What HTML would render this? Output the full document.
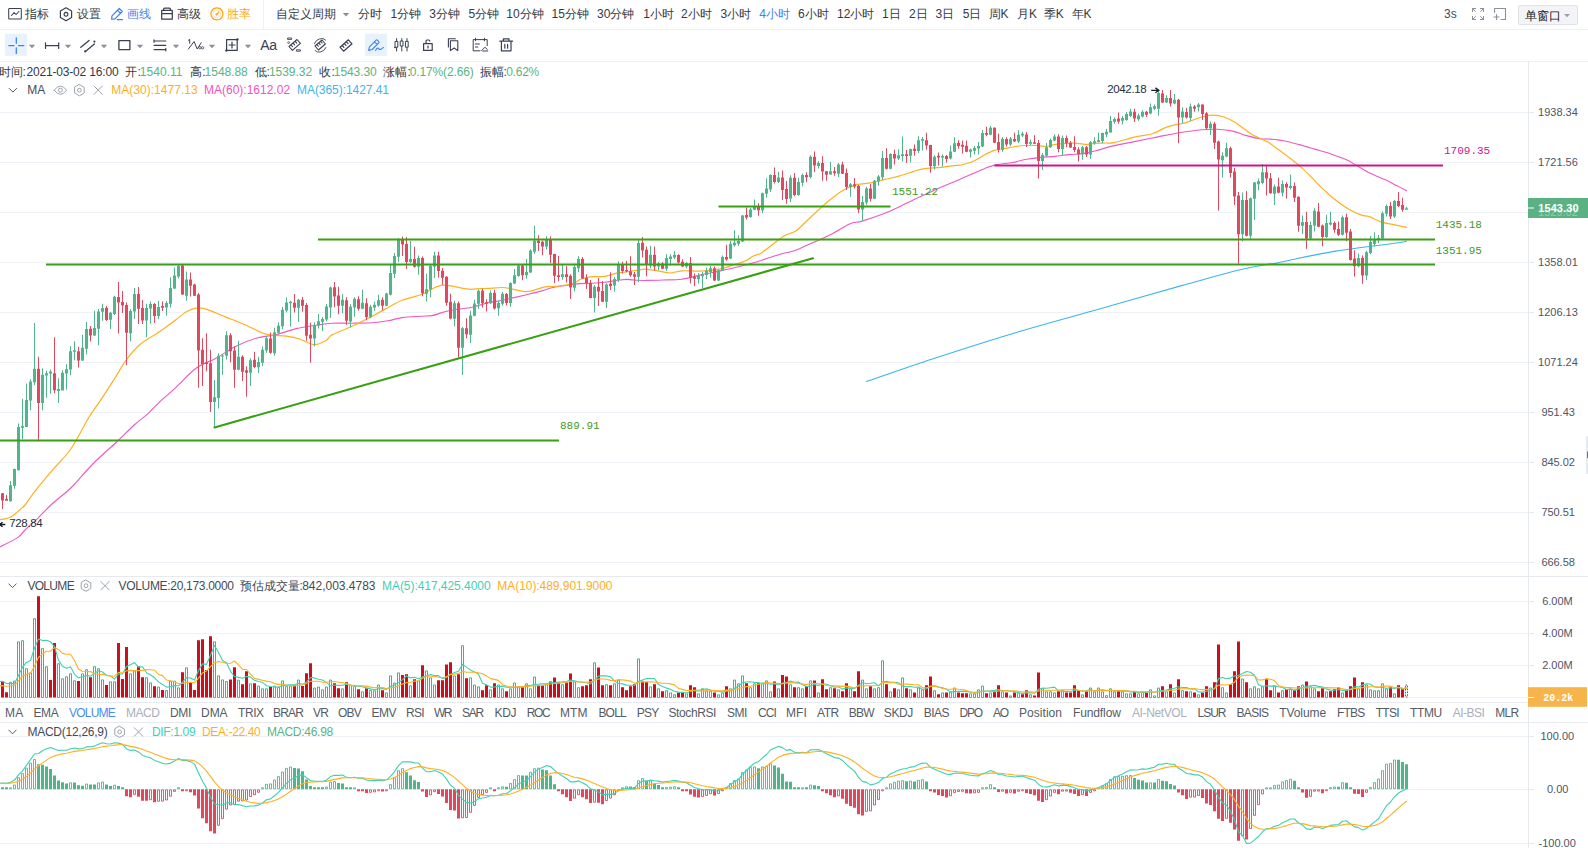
<!DOCTYPE html>
<html><head><meta charset="utf-8"><title>chart</title>
<style>
html,body{margin:0;padding:0;background:#fff;}
body{width:1588px;height:848px;position:relative;overflow:hidden;font-family:"Liberation Sans",sans-serif;}
svg.g{position:absolute;left:0;top:0;}
.t{position:absolute;white-space:nowrap;line-height:20px;height:20px;font-family:"Liberation Sans",sans-serif;}
</style></head><body>
<svg class="g" width="1588" height="848" viewBox="0 0 1588 848">
<rect x="0" y="112" width="1528" height="1" fill="#eff3f8"/>
<rect x="0" y="162" width="1528" height="1" fill="#eff3f8"/>
<rect x="0" y="212" width="1528" height="1" fill="#eff3f8"/>
<rect x="0" y="262" width="1528" height="1" fill="#eff3f8"/>
<rect x="0" y="312" width="1528" height="1" fill="#eff3f8"/>
<rect x="0" y="362" width="1528" height="1" fill="#eff3f8"/>
<rect x="0" y="412" width="1528" height="1" fill="#eff3f8"/>
<rect x="0" y="462" width="1528" height="1" fill="#eff3f8"/>
<rect x="0" y="512" width="1528" height="1" fill="#eff3f8"/>
<rect x="0" y="562" width="1528" height="1" fill="#eff3f8"/>
<rect x="0" y="601" width="1528" height="1" fill="#eff3f8"/>
<rect x="0" y="633" width="1528" height="1" fill="#eff3f8"/>
<rect x="0" y="665" width="1528" height="1" fill="#eff3f8"/>
<rect x="0" y="697" width="1528" height="1" fill="#eff3f8"/>
<rect x="0" y="736" width="1528" height="1" fill="#eff3f8"/>
<rect x="0" y="789" width="1528" height="1" fill="#eff3f8"/>
<rect x="0" y="843" width="1528" height="1" fill="#eff3f8"/>
<rect x="0" y="29" width="1588" height="1" fill="#eff1f5"/>
<rect x="0" y="61" width="1588" height="1" fill="#eff1f5"/>
<rect x="263" y="0" width="1" height="29" fill="#eff1f5"/>
<rect x="0" y="576" width="1588" height="1" fill="#e6eaef"/>
<rect x="0" y="702" width="1588" height="1" fill="#e6eaef"/>
<rect x="0" y="722" width="1588" height="1" fill="#e6eaef"/>
<rect x="1528" y="62" width="1" height="786" fill="#e6eaef"/>
<path d="M866.6 381.6 C877.68 377.8 908.15 366.98 933.1 358.8 C958.05 350.62 988.58 340.8 1016.3 332.5 C1044.02 324.2 1071.7 316.85 1099.4 309 C1127.1 301.15 1159.42 291.87 1182.5 285.4 C1205.58 278.93 1223.65 273.72 1237.9 270.2 C1252.15 266.68 1261.37 265.52 1268 264.3 C1274.63 263.08 1272.83 263.87 1277.7 262.9 C1282.57 261.93 1290.7 259.88 1297.2 258.5 C1303.7 257.12 1310.22 255.83 1316.7 254.6 C1323.18 253.37 1329.62 252.15 1336.1 251.1 C1342.58 250.05 1349.1 249.18 1355.6 248.3 C1362.1 247.42 1368.62 246.63 1375.1 245.8 C1381.58 244.97 1389.25 244.05 1394.5 243.3 C1399.75 242.55 1404.58 241.63 1406.6 241.3" fill="none" stroke="#3db4ee" stroke-width="1.1" stroke-linejoin="round" stroke-linecap="round" />
<path d="M0 547 C3 545.4 13.83 540.23 18 537.4 C22.17 534.57 21.75 533.13 25 530 C28.25 526.87 33 522.93 37.5 518.6 C42 514.27 46.45 509.1 52 504 C57.55 498.9 64.72 493.92 70.8 488 C76.88 482.08 83.63 473.67 88.5 468.5 C93.37 463.33 95.3 461.42 100 457 C104.7 452.58 111 447.33 116.7 442 C122.4 436.67 128.93 429.78 134.2 425 C139.47 420.22 143.95 417.25 148.3 413.3 C152.65 409.35 155.68 405.63 160.3 401.3 C164.92 396.97 170.05 392.8 176 387.3 C181.95 381.8 189.33 373.15 196 368.3 C202.67 363.45 209.33 361.88 216 358.2 C222.67 354.52 229.3 349.53 236 346.2 C242.7 342.87 249.48 340.13 256.2 338.2 C262.92 336.27 269.62 336.2 276.3 334.6 C282.98 333 289.62 330.17 296.3 328.6 C302.98 327.03 310.45 326.1 316.4 325.2 C322.35 324.3 326.07 323.53 332 323.2 C337.93 322.87 345.33 323.27 352 323.2 C358.67 323.13 366 323.2 372 322.8 C378 322.4 383 321.67 388 320.8 C393 319.93 396.33 318.37 402 317.6 C407.67 316.83 417 316.53 422 316.2 C427 315.87 428.67 316.2 432 315.6 C435.33 315 438.67 313.5 442 312.6 C445.33 311.7 447 311.1 452 310.2 C457 309.3 466 308.43 472 307.2 C478 305.97 483.17 303.92 488 302.8 C492.83 301.68 496.67 301.37 501 300.5 C505.33 299.63 509.67 298.58 514 297.6 C518.33 296.62 522.67 295.63 527 294.6 C531.33 293.57 535.67 292.58 540 291.4 C544.33 290.22 548.67 288.48 553 287.5 C557.33 286.52 561.7 286.15 566 285.5 C570.3 284.85 574.5 283.97 578.8 283.6 C583.1 283.23 587.47 283.52 591.8 283.3 C596.13 283.08 600.47 282.8 604.8 282.3 C609.13 281.8 614.12 280.78 617.8 280.3 C621.48 279.82 623.67 279.4 626.9 279.4 C630.13 279.4 633.68 280.13 637.2 280.3 C640.72 280.47 643.72 280.45 648 280.4 C652.28 280.35 657.28 280.2 662.9 280 C668.52 279.8 675.42 280.05 681.7 279.2 C687.98 278.35 694.3 276.25 700.6 274.9 C706.9 273.55 713.22 272.45 719.5 271.1 C725.78 269.75 732.02 268.37 738.3 266.8 C744.58 265.23 750.9 263.58 757.2 261.7 C763.5 259.82 769.82 257.38 776.1 255.5 C782.38 253.62 790.25 251.88 794.9 250.4 C799.55 248.92 798.2 249.17 804 246.6 C809.8 244.03 822.12 238.78 829.7 235 C837.28 231.22 844.08 226.22 849.5 223.9 C854.92 221.58 856.3 222.87 862.2 221.1 C868.1 219.33 878.77 215.65 884.9 213.3 C891.03 210.95 894.28 209.23 899 207 C903.72 204.77 908.48 202.15 913.2 199.9 C917.92 197.65 922.58 195.63 927.3 193.5 C932.02 191.37 936.72 189.2 941.5 187.1 C946.28 185 951.23 182.95 956 180.9 C960.77 178.85 965.38 176.83 970.1 174.8 C974.82 172.77 980.05 170.35 984.3 168.7 C988.55 167.05 990.88 165.93 995.6 164.9 C1000.32 163.87 1007.42 163.43 1012.6 162.5 C1017.78 161.57 1021.98 160.15 1026.7 159.3 C1031.42 158.45 1036.18 157.88 1040.9 157.4 C1045.62 156.92 1050.28 156.87 1055 156.4 C1059.72 155.93 1064.48 155.07 1069.2 154.6 C1073.92 154.13 1078.58 154.3 1083.3 153.6 C1088.02 152.9 1092.72 151.65 1097.5 150.4 C1102.28 149.15 1105.85 147.57 1112 146.1 C1118.15 144.63 1126.93 143.1 1134.4 141.6 C1141.87 140.1 1149.33 138.58 1156.8 137.1 C1164.27 135.62 1171.73 133.93 1179.2 132.7 C1186.67 131.47 1195.25 130.27 1201.6 129.7 C1207.95 129.13 1212.07 129.07 1217.3 129.3 C1222.53 129.53 1228.13 130.05 1233 131.1 C1237.87 132.15 1242.02 134.33 1246.5 135.6 C1250.98 136.87 1256.32 138.13 1259.9 138.7 C1263.48 139.27 1264.05 138.67 1268 139 C1271.95 139.33 1278.42 139.77 1283.6 140.7 C1288.78 141.63 1293.92 143.2 1299.1 144.6 C1304.28 146 1309.5 147.58 1314.7 149.1 C1319.9 150.62 1325.1 151.95 1330.3 153.7 C1335.5 155.45 1341.37 157.55 1345.9 159.6 C1350.43 161.65 1353.62 163.8 1357.5 166 C1361.38 168.2 1364.65 170.53 1369.2 172.8 C1373.75 175.07 1380.25 177.48 1384.8 179.6 C1389.35 181.72 1392.87 183.65 1396.5 185.5 C1400.13 187.35 1404.92 189.83 1406.6 190.7" fill="none" stroke="#ee58c4" stroke-width="1.1" stroke-linejoin="round" stroke-linecap="round" />
<path d="M0 519.7 C0.83 519.55 3.33 519.2 5 518.8 C6.67 518.4 8.33 518.1 10 517.3 C11.67 516.5 13.33 515.3 15 514 C16.67 512.7 18.33 511 20 509.5 C21.67 508 22.43 508.15 25 505 C27.57 501.85 30.72 496.53 35.4 490.6 C40.08 484.67 47.2 476.33 53.1 469.4 C59 462.47 64.9 457.57 70.8 449 C76.7 440.43 83.63 425.97 88.5 418 C93.37 410.03 95.72 407.67 100 401.2 C104.28 394.73 109.83 386.03 114.2 379.2 C118.57 372.37 121.87 366.03 126.2 360.2 C130.53 354.37 134.52 349.03 140.2 344.2 C145.88 339.37 154.33 335.28 160.3 331.2 C166.27 327.12 171.72 322.9 176 319.7 C180.28 316.5 182.67 313.93 186 312 C189.33 310.07 192.67 308.58 196 308.1 C199.33 307.62 201 307.6 206 309.1 C211 310.6 219.33 314.42 226 317.1 C232.67 319.78 239.33 322.35 246 325.2 C252.67 328.05 259.28 332.37 266 334.2 C272.72 336.03 280.58 335.37 286.3 336.2 C292.02 337.03 295.63 337.8 300.3 339.2 C304.97 340.6 309.95 344.43 314.3 344.6 C318.65 344.77 323.45 341.82 326.4 340.2 C329.35 338.58 327.73 337.22 332 334.9 C336.27 332.58 345.32 329.42 352 326.3 C358.68 323.18 365.4 319.72 372.1 316.2 C378.8 312.68 387.18 307.87 392.2 305.2 C397.22 302.53 397.2 302.03 402.2 300.2 C407.2 298.37 417.18 296.1 422.2 294.2 C427.22 292.3 428.95 290.3 432.3 288.8 C435.65 287.3 438.97 285.63 442.3 285.2 C445.63 284.77 447.97 285.53 452.3 286.2 C456.63 286.87 463.62 288.8 468.3 289.2 C472.98 289.6 477.12 288.73 480.4 288.6 C483.68 288.47 484.35 288.58 488 288.4 C491.65 288.22 498.4 287.43 502.3 287.5 C506.2 287.57 507.95 288.15 511.4 288.8 C514.85 289.45 519.77 291.02 523 291.4 C526.23 291.78 527.12 291.87 530.8 291.1 C534.48 290.33 540.98 287.58 545.1 286.8 C549.22 286.02 551.18 286.83 555.5 286.4 C559.82 285.97 566.68 285.43 571 284.2 C575.32 282.97 577.93 280.25 581.4 279 C584.87 277.75 587.9 277.13 591.8 276.7 C595.7 276.27 600.47 277.03 604.8 276.4 C609.13 275.77 613.92 273.7 617.8 272.9 C621.68 272.1 624.22 272.15 628.1 271.6 C631.98 271.05 637.78 269.98 641.1 269.6 C644.42 269.22 645 269.05 648 269.3 C651 269.55 655.37 270.48 659.1 271.1 C662.83 271.72 666.63 273.05 670.4 273 C674.17 272.95 676.67 271.12 681.7 270.8 C686.73 270.48 694.3 271.37 700.6 271.1 C706.9 270.83 713.83 270.3 719.5 269.2 C725.17 268.1 730.2 265.9 734.6 264.5 C739 263.1 742.77 262.22 745.9 260.8 C749.03 259.38 750.88 257.27 753.4 256 C755.92 254.73 757.85 255.08 761 253.2 C764.15 251.32 768.53 247.53 772.3 244.7 C776.07 241.87 779.83 238.4 783.6 236.2 C787.37 234 792.17 232.95 794.9 231.5 C797.63 230.05 796.8 230.42 800 227.5 C803.2 224.58 809.38 218.37 814.1 214 C818.82 209.63 823.58 205.18 828.3 201.3 C833.02 197.42 837.68 193.48 842.4 190.7 C847.12 187.92 851.88 185.9 856.6 184.6 C861.32 183.3 865.98 183.77 870.7 182.9 C875.42 182.03 880.18 180.53 884.9 179.4 C889.62 178.27 894.28 177.4 899 176.1 C903.72 174.8 909.2 172.82 913.2 171.6 C917.2 170.38 918.28 169.52 923 168.8 C927.72 168.08 936 167.87 941.5 167.3 C947 166.73 952.4 165.87 956 165.4 C959.6 164.93 960.03 165.28 963.1 164.5 C966.17 163.72 970.87 162.28 974.4 160.7 C977.93 159.12 981 156.72 984.3 155 C987.6 153.28 990.67 151.5 994.2 150.4 C997.73 149.3 1001.97 149.05 1005.5 148.4 C1009.03 147.75 1011.87 146.98 1015.4 146.5 C1018.93 146.02 1022.93 145.67 1026.7 145.5 C1030.47 145.33 1034.7 145.33 1038 145.5 C1041.3 145.67 1043.67 146.68 1046.5 146.5 C1049.33 146.32 1051.7 144.93 1055 144.4 C1058.3 143.87 1062.52 143.48 1066.3 143.3 C1070.08 143.12 1074.4 143.12 1077.7 143.3 C1081 143.48 1083.28 144.4 1086.1 144.4 C1088.92 144.4 1091.28 143.53 1094.6 143.3 C1097.92 143.07 1102.77 143.12 1106 143 C1109.23 142.88 1109.27 143.58 1114 142.6 C1118.73 141.62 1128.02 138.57 1134.4 137.1 C1140.78 135.63 1146.7 135.55 1152.3 133.8 C1157.9 132.05 1162.38 128.47 1168 126.6 C1173.62 124.73 1180.4 124.2 1186 122.6 C1191.6 121 1197.13 118.23 1201.6 117 C1206.07 115.77 1209.07 115.2 1212.8 115.2 C1216.53 115.2 1220.27 115.77 1224 117 C1227.73 118.23 1230.72 119.8 1235.2 122.6 C1239.68 125.4 1246.03 130.82 1250.9 133.8 C1255.77 136.78 1261.55 139.12 1264.4 140.5 C1267.25 141.88 1265.45 140.45 1268 142.1 C1270.55 143.75 1275.8 147.55 1279.7 150.4 C1283.6 153.25 1287.52 156.12 1291.4 159.2 C1295.28 162.28 1299.12 165.33 1303 168.9 C1306.88 172.47 1310.8 176.7 1314.7 180.6 C1318.6 184.5 1322.5 188.73 1326.4 192.3 C1330.3 195.87 1334.2 199.08 1338.1 202 C1342 204.92 1345.92 207.62 1349.8 209.8 C1353.68 211.98 1358.17 213.97 1361.4 215.1 C1364.63 216.23 1365.95 215.47 1369.2 216.6 C1372.45 217.73 1377 220.6 1380.9 221.9 C1384.8 223.2 1388.32 223.5 1392.6 224.4 C1396.88 225.3 1404.27 226.82 1406.6 227.3" fill="none" stroke="#ffb020" stroke-width="1.2" stroke-linejoin="round" stroke-linecap="round" />
<path d="M9 485.3 h3 v15.9 h-3 Z M10 481 h1 v20.8 h-1 Z M13 469 h3 v16.8 h-3 Z M14 468.5 h1 v20.3 h-1 Z M17 426.9 h3 v43.4 h-3 Z M18 423.4 h1 v47.2 h-1 Z M21 426 h3 v1.8 h-3 Z M22 398.7 h1 v40.6 h-1 Z M25 400 h3 v26.9 h-3 Z M26 383.4 h1 v43.5 h-1 Z M29 381.5 h3 v19 h-3 Z M30 379.2 h1 v31.1 h-1 Z M33 368.8 h3 v13.5 h-3 Z M34 323.1 h1 v62.2 h-1 Z M41 374.8 h3 v28.1 h-3 Z M42 368.2 h1 v42.1 h-1 Z M45 373.2 h3 v2.4 h-3 Z M46 370.8 h1 v26.9 h-1 Z M49 371.6 h3 v2 h-3 Z M50 369.6 h1 v24.1 h-1 Z M57 388.9 h3 v2 h-3 Z M58 378.2 h1 v24.7 h-1 Z M61 372.8 h3 v17.7 h-3 Z M62 370.2 h1 v20.3 h-1 Z M65 369.2 h3 v4.4 h-3 Z M66 364.2 h1 v25.5 h-1 Z M69 351.2 h3 v18.4 h-3 Z M70 346.2 h1 v29 h-1 Z M73 350.2 h3 v1.6 h-3 Z M74 341.2 h1 v19 h-1 Z M81 347.8 h3 v12.8 h-3 Z M82 334.8 h1 v26.2 h-1 Z M85 329.1 h3 v19.7 h-3 Z M86 322.1 h1 v32.1 h-1 Z M93 328.1 h3 v7.5 h-3 Z M94 310.7 h1 v25.3 h-1 Z M97 311.5 h3 v17.2 h-3 Z M98 309.1 h1 v36.1 h-1 Z M101 308.1 h3 v3.6 h-3 Z M102 303.7 h1 v17 h-1 Z M109 312.7 h3 v7 h-3 Z M110 311.7 h1 v17.4 h-1 Z M113 296.7 h3 v17.4 h-3 Z M114 295.7 h1 v19.3 h-1 Z M129 311.1 h3 v22.1 h-3 Z M130 309.1 h1 v32.1 h-1 Z M133 294.1 h3 v17.4 h-3 Z M134 288.1 h1 v30.6 h-1 Z M145 308.1 h3 v12.4 h-3 Z M146 303.7 h1 v33.5 h-1 Z M149 304.1 h3 v4.4 h-3 Z M150 301.5 h1 v22 h-1 Z M157 307.1 h3 v9 h-3 Z M158 300.7 h1 v18.4 h-1 Z M165 303.1 h3 v4.4 h-3 Z M166 301.1 h1 v14.4 h-1 Z M169 288.1 h3 v15.6 h-3 Z M170 277.4 h1 v30.1 h-1 Z M173 275.6 h3 v12.9 h-3 Z M174 267.4 h1 v21.6 h-1 Z M177 266 h3 v10.6 h-3 Z M178 265 h1 v13.6 h-1 Z M185 279.6 h3 v16.1 h-3 Z M186 271.6 h1 v29.1 h-1 Z M213 397.3 h3 v4.7 h-3 Z M214 379.9 h1 v47.5 h-1 Z M217 355.8 h3 v42.1 h-3 Z M218 353.2 h1 v55.2 h-1 Z M221 355.4 h3 v1.2 h-3 Z M222 354.2 h1 v20.5 h-1 Z M225 335.2 h3 v20.6 h-3 Z M226 331.2 h1 v28.4 h-1 Z M237 356.8 h3 v12.9 h-3 Z M238 340.8 h1 v29.5 h-1 Z M249 360.3 h3 v12.4 h-3 Z M250 358.2 h1 v27.7 h-1 Z M257 361.9 h3 v5.4 h-3 Z M258 356.8 h1 v16.1 h-1 Z M261 349.8 h3 v12.9 h-3 Z M262 346.6 h1 v19.3 h-1 Z M265 338.2 h3 v12.4 h-3 Z M266 336.2 h1 v16.6 h-1 Z M273 332.2 h3 v21 h-3 Z M274 327.8 h1 v28 h-1 Z M277 325.8 h3 v7 h-3 Z M278 322.6 h1 v11.2 h-1 Z M281 309.7 h3 v16.5 h-3 Z M282 307.1 h1 v22.1 h-1 Z M285 302.5 h3 v8 h-3 Z M286 297.5 h1 v15 h-1 Z M289 301.7 h3 v1.6 h-3 Z M290 300.7 h1 v25.9 h-1 Z M297 299.7 h3 v8 h-3 Z M298 299.1 h1 v22.7 h-1 Z M313 325.2 h3 v13.4 h-3 Z M314 322.6 h1 v24 h-1 Z M317 321.2 h3 v4.4 h-3 Z M318 314.1 h1 v14.5 h-1 Z M321 319.1 h3 v2.7 h-3 Z M322 317.1 h1 v14.1 h-1 Z M325 306.5 h3 v13 h-3 Z M326 304.1 h1 v17.1 h-1 Z M329 287.5 h3 v20 h-3 Z M330 286.5 h1 v31.6 h-1 Z M341 299.8 h3 v6 h-3 Z M342 294.2 h1 v19 h-1 Z M349 306.8 h3 v14.8 h-3 Z M350 304.2 h1 v23.1 h-1 Z M353 298.8 h3 v8.8 h-3 Z M354 297.2 h1 v19.6 h-1 Z M361 302.8 h3 v6 h-3 Z M362 289.8 h1 v19.4 h-1 Z M369 306.8 h3 v10.4 h-3 Z M370 304.8 h1 v13.4 h-1 Z M373 304.8 h3 v2.8 h-3 Z M374 301.8 h1 v9 h-1 Z M377 300.2 h3 v5.4 h-3 Z M378 294.8 h1 v12 h-1 Z M385 293.6 h3 v12.2 h-3 Z M386 292.8 h1 v13.4 h-1 Z M389 273.1 h3 v21.7 h-3 Z M390 265.1 h1 v30.5 h-1 Z M393 256.1 h3 v17.6 h-3 Z M394 253.1 h1 v25 h-1 Z M397 239 h3 v17.7 h-3 Z M398 238 h1 v24.1 h-1 Z M409 259.1 h3 v3 h-3 Z M410 241 h1 v22.1 h-1 Z M417 258.1 h3 v8.6 h-3 Z M418 255.5 h1 v19.2 h-1 Z M425 289.2 h3 v4.6 h-3 Z M426 273.7 h1 v27.9 h-1 Z M429 265.7 h3 v23.9 h-3 Z M430 264.7 h1 v32.5 h-1 Z M433 255.5 h3 v11 h-3 Z M434 251.7 h1 v26.4 h-1 Z M453 303.2 h3 v15.6 h-3 Z M454 300.8 h1 v25.5 h-1 Z M461 328.3 h3 v19.4 h-3 Z M462 326.9 h1 v48.1 h-1 Z M469 315.6 h3 v19.1 h-3 Z M470 310.8 h1 v32.1 h-1 Z M473 303.6 h3 v12.2 h-3 Z M474 299.8 h1 v16.4 h-1 Z M477 290.8 h3 v13 h-3 Z M478 289.6 h1 v19.2 h-1 Z M489 293 h3 v10.3 h-3 Z M490 290.5 h1 v13.5 h-1 Z M497 303 h3 v5.2 h-3 Z M498 300.5 h1 v15.3 h-1 Z M501 293.7 h3 v10 h-3 Z M502 292 h1 v13.6 h-1 Z M509 282.9 h3 v20.1 h-3 Z M510 282.3 h1 v24.4 h-1 Z M513 275.2 h3 v8.4 h-3 Z M514 269 h1 v15 h-1 Z M517 265.4 h3 v10.6 h-3 Z M518 264.8 h1 v12 h-1 Z M525 271.9 h3 v3.3 h-3 Z M526 258.9 h1 v19.8 h-1 Z M529 250.5 h3 v22.1 h-3 Z M530 249.2 h1 v23.8 h-1 Z M533 240.8 h3 v11 h-3 Z M534 225.8 h1 v27.9 h-1 Z M545 240.1 h3 v6.5 h-3 Z M546 236.2 h1 v13.4 h-1 Z M561 274.2 h3 v2.9 h-3 Z M562 264.8 h1 v14.9 h-1 Z M573 267 h3 v20.7 h-3 Z M574 263.5 h1 v27.9 h-1 Z M577 258.9 h3 v9.4 h-3 Z M578 256.3 h1 v15.9 h-1 Z M593 286.8 h3 v11.1 h-3 Z M594 285.1 h1 v27.3 h-1 Z M605 284.6 h3 v17.2 h-3 Z M606 283.3 h1 v24.7 h-1 Z M613 279 h3 v6.5 h-3 Z M614 277.1 h1 v14.7 h-1 Z M617 264.1 h3 v15.9 h-3 Z M618 261.3 h1 v20.7 h-1 Z M637 243.1 h3 v33.6 h-3 Z M638 239.7 h1 v42.6 h-1 Z M649 254.7 h3 v10.8 h-3 Z M650 245.7 h1 v22.6 h-1 Z M657 263.6 h3 v2.8 h-3 Z M658 261.7 h1 v8.5 h-1 Z M665 257.9 h3 v10.8 h-3 Z M666 254.2 h1 v16.9 h-1 Z M669 256.6 h3 v2.3 h-3 Z M670 254.2 h1 v11.3 h-1 Z M673 254.7 h3 v2.7 h-3 Z M674 251.3 h1 v7.6 h-1 Z M685 263 h3 v3.4 h-3 Z M686 261.7 h1 v6.6 h-1 Z M697 275.8 h3 v3.4 h-3 Z M698 273 h1 v10.4 h-1 Z M701 274.3 h3 v1.9 h-3 Z M702 272.1 h1 v16 h-1 Z M705 271.1 h3 v3.8 h-3 Z M706 267.4 h1 v11.8 h-1 Z M709 268.3 h3 v3.8 h-3 Z M710 266 h1 v11.4 h-1 Z M717 270.2 h3 v10.4 h-3 Z M718 269.2 h1 v11.9 h-1 Z M721 257 h3 v13.6 h-3 Z M722 255.5 h1 v15.6 h-1 Z M729 243.8 h3 v14.7 h-3 Z M730 240.9 h1 v18 h-1 Z M733 242.8 h3 v2.5 h-3 Z M734 230.2 h1 v16.4 h-1 Z M737 240.9 h3 v2.9 h-3 Z M738 235.3 h1 v10.7 h-1 Z M741 215.5 h3 v26 h-3 Z M742 215.1 h1 v26.8 h-1 Z M749 209.4 h3 v7.6 h-3 Z M750 207.9 h1 v9.8 h-1 Z M753 207 h3 v2.8 h-3 Z M754 199.4 h1 v10.8 h-1 Z M761 193.2 h3 v17 h-3 Z M762 192.5 h1 v20.7 h-1 Z M765 188.5 h3 v5.3 h-3 Z M766 178.3 h1 v19.2 h-1 Z M769 174.9 h3 v14.5 h-3 Z M770 174.3 h1 v17.6 h-1 Z M777 177.4 h3 v4.5 h-3 Z M778 171.7 h1 v11.3 h-1 Z M789 177.7 h3 v20.8 h-3 Z M790 175.3 h1 v26.6 h-1 Z M797 181.9 h3 v13.2 h-3 Z M798 177.7 h1 v18 h-1 Z M801 175 h3 v7.7 h-3 Z M802 173.4 h1 v12.9 h-1 Z M809 156.7 h3 v20.3 h-3 Z M810 155.3 h1 v23.1 h-1 Z M817 163.1 h3 v2.8 h-3 Z M818 161 h1 v7.5 h-1 Z M829 171.3 h3 v3.1 h-3 Z M830 162.1 h1 v12.6 h-1 Z M837 164.5 h3 v9.2 h-3 Z M838 163.1 h1 v13.9 h-1 Z M849 184.3 h3 v2.6 h-3 Z M850 182.9 h1 v13.9 h-1 Z M861 202 h3 v7.5 h-3 Z M862 195.9 h1 v24.9 h-1 Z M865 188.6 h3 v13.8 h-3 Z M866 187.1 h1 v17.7 h-1 Z M873 180.8 h3 v17.9 h-3 Z M874 180.1 h1 v19.1 h-1 Z M877 176.5 h3 v5 h-3 Z M878 175.1 h1 v10.6 h-1 Z M881 158.1 h3 v19.1 h-3 Z M882 151.1 h1 v29 h-1 Z M889 153.9 h3 v14.9 h-3 Z M890 153.2 h1 v16 h-1 Z M897 155.3 h3 v3.3 h-3 Z M898 149.2 h1 v10.8 h-1 Z M901 154.3 h3 v1.7 h-3 Z M902 136.5 h1 v24.9 h-1 Z M909 149 h3 v6.7 h-3 Z M910 148.7 h1 v13.7 h-1 Z M917 140.2 h3 v10.9 h-3 Z M918 136.2 h1 v16.7 h-1 Z M921 139 h3 v1.7 h-3 Z M922 136.9 h1 v13.5 h-1 Z M933 156.7 h3 v9.5 h-3 Z M934 155.3 h1 v14.2 h-1 Z M941 156 h3 v1.4 h-3 Z M942 154.3 h1 v12.3 h-1 Z M949 151.5 h3 v7.1 h-3 Z M950 145.4 h1 v14.2 h-1 Z M953 143.3 h3 v8.5 h-3 Z M954 137.2 h1 v14.9 h-1 Z M969 149.6 h3 v2.2 h-3 Z M970 148.7 h1 v8.7 h-1 Z M973 147.9 h3 v2.9 h-3 Z M974 146.1 h1 v8.5 h-1 Z M977 146.1 h3 v2.3 h-3 Z M978 142 h1 v12.6 h-1 Z M981 133.1 h3 v13.4 h-3 Z M982 130 h1 v17 h-1 Z M989 127.7 h3 v7.1 h-3 Z M990 126 h1 v9.2 h-1 Z M1001 138.8 h3 v11 h-3 Z M1002 137.1 h1 v14.7 h-1 Z M1009 138.8 h3 v5.6 h-3 Z M1010 137.1 h1 v9 h-1 Z M1017 134.8 h3 v6.8 h-3 Z M1018 130.3 h1 v12.7 h-1 Z M1021 133.8 h3 v1.8 h-3 Z M1022 131.7 h1 v5.4 h-1 Z M1029 141.9 h3 v1.8 h-3 Z M1030 139.5 h1 v5.6 h-1 Z M1041 155 h3 v6 h-3 Z M1042 152.9 h1 v17 h-1 Z M1045 147.2 h3 v8.5 h-3 Z M1046 143 h1 v13.4 h-1 Z M1049 139.9 h3 v7.3 h-3 Z M1050 138.5 h1 v9.5 h-1 Z M1053 136.6 h3 v3.9 h-3 Z M1054 134.2 h1 v7.1 h-1 Z M1061 138 h3 v10.9 h-3 Z M1062 135.6 h1 v19.4 h-1 Z M1081 147.2 h3 v7.1 h-3 Z M1082 146.1 h1 v13.6 h-1 Z M1089 142.3 h3 v12.3 h-3 Z M1090 140.9 h1 v17.9 h-1 Z M1093 141.3 h3 v1.7 h-3 Z M1094 137.3 h1 v7.4 h-1 Z M1097 140.2 h3 v1.7 h-3 Z M1098 132.4 h1 v9.9 h-1 Z M1101 133.1 h3 v7.8 h-3 Z M1102 132.4 h1 v10.9 h-1 Z M1105 131.7 h3 v2.8 h-3 Z M1106 129.1 h1 v8.2 h-1 Z M1109 121.1 h3 v11.3 h-3 Z M1110 116.1 h1 v16.7 h-1 Z M1113 119.1 h3 v2.7 h-3 Z M1114 117.5 h1 v6.3 h-1 Z M1121 118.1 h3 v2.7 h-3 Z M1122 115.9 h1 v8.5 h-1 Z M1125 114.1 h3 v5.8 h-3 Z M1126 112 h1 v8.8 h-1 Z M1129 111.4 h3 v4.5 h-3 Z M1130 108.7 h1 v8.3 h-1 Z M1137 115.4 h3 v3.8 h-3 Z M1138 113.6 h1 v7.2 h-1 Z M1141 111.8 h3 v4.7 h-3 Z M1142 110.3 h1 v7.3 h-1 Z M1149 107.3 h3 v6.3 h-3 Z M1150 103.5 h1 v10.8 h-1 Z M1153 106.2 h3 v2.5 h-3 Z M1154 104.6 h1 v5.7 h-1 Z M1157 93 h3 v15.7 h-3 Z M1158 90.1 h1 v25.3 h-1 Z M1165 97.9 h3 v4.5 h-3 Z M1166 95.2 h1 v7.9 h-1 Z M1173 99.7 h3 v3.8 h-3 Z M1174 93.9 h1 v10.3 h-1 Z M1181 111.4 h3 v6.2 h-3 Z M1182 107.3 h1 v15.7 h-1 Z M1189 106.4 h3 v11.7 h-3 Z M1190 103.5 h1 v17.3 h-1 Z M1197 104.6 h3 v2.7 h-3 Z M1198 102.9 h1 v8.5 h-1 Z M1209 123.7 h3 v4.5 h-3 Z M1210 121.5 h1 v13.4 h-1 Z M1221 155.7 h3 v4.5 h-3 Z M1222 152.2 h1 v25.3 h-1 Z M1225 148.3 h3 v8.3 h-3 Z M1226 142.7 h1 v14.6 h-1 Z M1241 199.9 h3 v34.3 h-3 Z M1242 192.5 h1 v48.8 h-1 Z M1249 198.3 h3 v37.4 h-3 Z M1250 197.6 h1 v41.1 h-1 Z M1253 182.6 h3 v16.2 h-3 Z M1254 182 h1 v38.1 h-1 Z M1257 181.3 h3 v2.9 h-3 Z M1258 178.6 h1 v11.7 h-1 Z M1261 172.3 h3 v10.8 h-3 Z M1262 164 h1 v20.2 h-1 Z M1273 186.8 h3 v7 h-3 Z M1274 184.5 h1 v20.4 h-1 Z M1281 184.1 h3 v8.6 h-3 Z M1282 180.6 h1 v16 h-1 Z M1289 186.1 h3 v1.9 h-3 Z M1290 174.4 h1 v15 h-1 Z M1301 221.9 h3 v3.9 h-3 Z M1302 215.6 h1 v18.5 h-1 Z M1309 225 h3 v13.6 h-3 Z M1310 221.5 h1 v17.5 h-1 Z M1313 210.8 h3 v14.6 h-3 Z M1314 208.2 h1 v23.4 h-1 Z M1325 223 h3 v14.1 h-3 Z M1326 214.7 h1 v23.3 h-1 Z M1329 222.5 h3 v1.9 h-3 Z M1330 211.8 h1 v13.6 h-1 Z M1341 217.2 h3 v17.5 h-3 Z M1342 215.6 h1 v19.9 h-1 Z M1357 258.1 h3 v8.2 h-3 Z M1358 253.6 h1 v13.6 h-1 Z M1365 252.2 h3 v23.4 h-3 Z M1366 250.7 h1 v29.2 h-1 Z M1369 241.9 h3 v11.1 h-3 Z M1370 236.1 h1 v18.1 h-1 Z M1373 239.4 h3 v4.5 h-3 Z M1374 232.2 h1 v14.2 h-1 Z M1377 238 h3 v2 h-3 Z M1378 235.1 h1 v7.8 h-1 Z M1381 213.3 h3 v25.3 h-3 Z M1382 211.4 h1 v27.6 h-1 Z M1385 205.9 h3 v7.8 h-3 Z M1386 204.4 h1 v12.2 h-1 Z M1393 201 h3 v15.6 h-3 Z M1394 200.1 h1 v17.9 h-1 Z M1404.5 209.8 L1406.5 206.5 L1408.5 209.8 Z" fill="#52b48a"/>
<path d="M1 493.3 h3 v7.1 h-3 Z M2 493 h1 v16 h-1 Z M5 499 h3 v1.7 h-3 Z M6 495 h1 v5.7 h-1 Z M37 368.8 h3 v34.1 h-3 Z M38 356.8 h1 v84.8 h-1 Z M53 373.2 h3 v17.1 h-3 Z M54 337.2 h1 v56.1 h-1 Z M77 351.2 h3 v9.4 h-3 Z M78 346.8 h1 v20.8 h-1 Z M89 328.7 h3 v6.9 h-3 Z M90 326.1 h1 v15.5 h-1 Z M105 307.7 h3 v12.4 h-3 Z M106 306.1 h1 v14.9 h-1 Z M117 297.1 h3 v5.4 h-3 Z M118 282.1 h1 v51.5 h-1 Z M121 302.1 h3 v3.4 h-3 Z M122 291.1 h1 v22 h-1 Z M125 305.1 h3 v27.7 h-3 Z M126 302.5 h1 v62.7 h-1 Z M137 294.1 h3 v14.6 h-3 Z M138 287.1 h1 v37 h-1 Z M141 308.1 h3 v12.4 h-3 Z M142 300.1 h1 v24 h-1 Z M153 304.1 h3 v12 h-3 Z M154 303.1 h1 v20 h-1 Z M161 306.1 h3 v1.6 h-3 Z M162 301.5 h1 v9.6 h-1 Z M181 265.6 h3 v28.9 h-3 Z M182 264.4 h1 v30.6 h-1 Z M189 279.6 h3 v6.1 h-3 Z M190 272.4 h1 v24.1 h-1 Z M193 284.5 h3 v11.2 h-3 Z M194 283.7 h1 v12.3 h-1 Z M197 294.5 h3 v56.1 h-3 Z M198 293.1 h1 v94.6 h-1 Z M201 349.8 h3 v14.1 h-3 Z M202 338.2 h1 v47.7 h-1 Z M205 362.3 h3 v1.6 h-3 Z M206 333.2 h1 v38.1 h-1 Z M209 363.3 h3 v38.7 h-3 Z M210 349.8 h1 v62.2 h-1 Z M229 335.2 h3 v16 h-3 Z M230 333.2 h1 v29.1 h-1 Z M233 350.6 h3 v19.1 h-3 Z M234 346.6 h1 v41.1 h-1 Z M241 356.8 h3 v14.9 h-3 Z M242 355.2 h1 v25.7 h-1 Z M245 370.3 h3 v2.4 h-3 Z M246 366.3 h1 v30.4 h-1 Z M253 359.8 h3 v7.1 h-3 Z M254 351.8 h1 v16.5 h-1 Z M269 338.6 h3 v14.2 h-3 Z M270 332.6 h1 v21.2 h-1 Z M293 302.7 h3 v5 h-3 Z M294 294.1 h1 v18.4 h-1 Z M301 299.7 h3 v6 h-3 Z M302 297.1 h1 v14.6 h-1 Z M305 305.1 h3 v30.7 h-3 Z M306 303.1 h1 v37.7 h-1 Z M309 334.8 h3 v3.8 h-3 Z M310 322.8 h1 v39.9 h-1 Z M333 287.3 h3 v9.3 h-3 Z M334 282 h1 v25.3 h-1 Z M337 295.6 h3 v10.2 h-3 Z M338 286.8 h1 v27.4 h-1 Z M345 300.2 h3 v20.6 h-3 Z M346 297.2 h1 v27.6 h-1 Z M357 299.2 h3 v9.6 h-3 Z M358 296.2 h1 v14.6 h-1 Z M365 303.2 h3 v14 h-3 Z M366 298.2 h1 v22 h-1 Z M381 299.8 h3 v6 h-3 Z M382 297.2 h1 v13 h-1 Z M401 239 h3 v5.6 h-3 Z M402 236.4 h1 v19.7 h-1 Z M405 244 h3 v18.1 h-3 Z M406 237 h1 v31.7 h-1 Z M413 259.1 h3 v7.6 h-3 Z M414 246.7 h1 v20.8 h-1 Z M421 258.1 h3 v35.1 h-3 Z M422 256.5 h1 v39.7 h-1 Z M437 255.5 h3 v15.6 h-3 Z M438 251.7 h1 v25.8 h-1 Z M441 270.7 h3 v7 h-3 Z M442 268.1 h1 v16.6 h-1 Z M445 276.7 h3 v26.1 h-3 Z M446 276.1 h1 v29.7 h-1 Z M449 301.8 h3 v16.8 h-3 Z M450 293.8 h1 v25.4 h-1 Z M457 303.2 h3 v44.5 h-3 Z M458 301.6 h1 v56.1 h-1 Z M465 328.3 h3 v6 h-3 Z M466 318.2 h1 v20.1 h-1 Z M481 290.8 h3 v12.4 h-3 Z M482 288.8 h1 v18.8 h-1 Z M485 302.2 h3 v1.6 h-3 Z M486 299.2 h1 v12.4 h-1 Z M493 292.7 h3 v15.8 h-3 Z M494 289.7 h1 v19.8 h-1 Z M505 294 h3 v9 h-3 Z M506 293 h1 v12.6 h-1 Z M521 265.4 h3 v9.8 h-3 Z M522 264.8 h1 v15.5 h-1 Z M537 240.8 h3 v2.3 h-3 Z M538 235.3 h1 v15.6 h-1 Z M541 241.8 h3 v4.8 h-3 Z M542 240.8 h1 v14.5 h-1 Z M549 240.1 h3 v14.7 h-3 Z M550 236.2 h1 v26.9 h-1 Z M553 254.1 h3 v21.7 h-3 Z M554 253.7 h1 v29.2 h-1 Z M557 275.2 h3 v1.9 h-3 Z M558 256.1 h1 v25.2 h-1 Z M565 274.2 h3 v2.9 h-3 Z M566 266.1 h1 v16.4 h-1 Z M569 275.8 h3 v11.7 h-3 Z M570 274.2 h1 v24.7 h-1 Z M581 258.9 h3 v19.5 h-3 Z M582 257 h1 v22 h-1 Z M585 277.7 h3 v5.6 h-3 Z M586 274.2 h1 v14.8 h-1 Z M589 282.9 h3 v15 h-3 Z M590 280 h1 v18.2 h-1 Z M597 286.8 h3 v4.8 h-3 Z M598 278 h1 v27.9 h-1 Z M601 291.1 h3 v10.7 h-3 Z M602 281 h1 v21 h-1 Z M609 283.8 h3 v2.1 h-3 Z M610 272.3 h1 v17.8 h-1 Z M621 264.1 h3 v6.9 h-3 Z M622 261.8 h1 v11.7 h-1 Z M625 270 h3 v1.3 h-3 Z M626 260.9 h1 v11.4 h-1 Z M629 271.3 h3 v3.9 h-3 Z M630 256.3 h1 v20.5 h-1 Z M633 274.2 h3 v2.5 h-3 Z M634 271.9 h1 v13 h-1 Z M641 242.7 h3 v7.8 h-3 Z M642 236.9 h1 v20.5 h-1 Z M645 249.8 h3 v14.8 h-3 Z M646 246.4 h1 v29.9 h-1 Z M653 254.7 h3 v11.7 h-3 Z M654 246.6 h1 v24.2 h-1 Z M661 263.6 h3 v5.1 h-3 Z M662 262.3 h1 v6.9 h-1 Z M677 255.1 h3 v7.5 h-3 Z M678 254.2 h1 v9.4 h-1 Z M681 261.7 h3 v4.7 h-3 Z M682 259.2 h1 v7.8 h-1 Z M689 263 h3 v14.7 h-3 Z M690 257 h1 v26.4 h-1 Z M693 276.8 h3 v1.9 h-3 Z M694 273.6 h1 v12.6 h-1 Z M713 268.3 h3 v12.3 h-3 Z M714 266.4 h1 v14.7 h-1 Z M725 257 h3 v2.4 h-3 Z M726 244.7 h1 v16.1 h-1 Z M745 215.1 h3 v2.3 h-3 Z M746 207.5 h1 v12.1 h-1 Z M757 207 h3 v3.2 h-3 Z M758 203.2 h1 v12.6 h-1 Z M773 174.9 h3 v7 h-3 Z M774 167.4 h1 v16 h-1 Z M781 177.4 h3 v12.6 h-3 Z M782 170.6 h1 v29.4 h-1 Z M785 189.1 h3 v9.8 h-3 Z M786 181.1 h1 v22.7 h-1 Z M793 177.7 h3 v17.4 h-3 Z M794 173 h1 v23.2 h-1 Z M805 175.1 h3 v2.1 h-3 Z M806 172.3 h1 v9.9 h-1 Z M813 156.7 h3 v8.9 h-3 Z M814 151.5 h1 v20.4 h-1 Z M821 163.1 h3 v8.5 h-3 Z M822 156.3 h1 v24.5 h-1 Z M825 171.3 h3 v3.4 h-3 Z M826 170.9 h1 v9.9 h-1 Z M833 171.3 h3 v2 h-3 Z M834 167.1 h1 v8.7 h-1 Z M841 164.5 h3 v9.2 h-3 Z M842 161.7 h1 v12.4 h-1 Z M845 173 h3 v14.1 h-3 Z M846 168.5 h1 v21.5 h-1 Z M853 184.3 h3 v2.1 h-3 Z M854 178 h1 v10.6 h-1 Z M857 185.7 h3 v23.8 h-3 Z M858 185 h1 v28.3 h-1 Z M869 188.6 h3 v10.1 h-3 Z M870 184 h1 v17.6 h-1 Z M885 158.1 h3 v10.7 h-3 Z M886 148.2 h1 v21.3 h-1 Z M893 153.9 h3 v4.7 h-3 Z M894 149.7 h1 v14.8 h-1 Z M905 154.3 h3 v1.7 h-3 Z M906 150.1 h1 v13 h-1 Z M913 148.7 h3 v2.4 h-3 Z M914 144.4 h1 v11.3 h-1 Z M925 140.2 h3 v5.2 h-3 Z M926 132.7 h1 v17 h-1 Z M929 145 h3 v20.9 h-3 Z M930 144.7 h1 v28 h-1 Z M937 155.7 h3 v1.7 h-3 Z M938 152.5 h1 v13.1 h-1 Z M945 156 h3 v2.9 h-3 Z M946 154.9 h1 v7.5 h-1 Z M957 143 h3 v2.9 h-3 Z M958 140.3 h1 v8.5 h-1 Z M961 144.7 h3 v2.1 h-3 Z M962 140.6 h1 v13 h-1 Z M965 145.8 h3 v6 h-3 Z M966 140.6 h1 v11.6 h-1 Z M985 133.1 h3 v1.7 h-3 Z M986 126.7 h1 v9.5 h-1 Z M993 127.7 h3 v15 h-3 Z M994 127.2 h1 v15.8 h-1 Z M997 142 h3 v7.8 h-3 Z M998 133.8 h1 v18.8 h-1 Z M1005 139 h3 v5.4 h-3 Z M1006 137.3 h1 v9.2 h-1 Z M1013 139 h3 v2.6 h-3 Z M1014 132.8 h1 v9.1 h-1 Z M1025 134.5 h3 v9.6 h-3 Z M1026 132 h1 v15 h-1 Z M1033 142.3 h3 v1.4 h-3 Z M1034 135.2 h1 v8.9 h-1 Z M1037 143 h3 v18 h-3 Z M1038 139.9 h1 v38.5 h-1 Z M1057 136.6 h3 v12.3 h-3 Z M1058 134.2 h1 v18 h-1 Z M1065 138 h3 v5.3 h-3 Z M1066 135.6 h1 v11.6 h-1 Z M1069 142.7 h3 v4.8 h-3 Z M1070 140.9 h1 v7.1 h-1 Z M1073 147 h3 v3.1 h-3 Z M1074 136.2 h1 v16 h-1 Z M1077 149.4 h3 v4.9 h-3 Z M1078 147.2 h1 v14.2 h-1 Z M1085 147.2 h3 v7.4 h-3 Z M1086 146.1 h1 v10.8 h-1 Z M1117 118.5 h3 v3 h-3 Z M1118 112.5 h1 v11.2 h-1 Z M1133 111.8 h3 v6.7 h-3 Z M1134 108.7 h1 v13.4 h-1 Z M1145 111.8 h3 v2.9 h-3 Z M1146 110.9 h1 v6.1 h-1 Z M1161 93.4 h3 v9 h-3 Z M1162 90.1 h1 v13 h-1 Z M1169 97.9 h3 v5.6 h-3 Z M1170 90.1 h1 v16.3 h-1 Z M1177 99.7 h3 v17.9 h-3 Z M1178 99 h1 v44.2 h-1 Z M1185 112 h3 v5.6 h-3 Z M1186 108 h1 v10.5 h-1 Z M1193 106.4 h3 v2.3 h-3 Z M1194 105.1 h1 v6.7 h-1 Z M1201 104.6 h3 v9.5 h-3 Z M1202 104.2 h1 v15.7 h-1 Z M1205 113.2 h3 v15 h-3 Z M1206 112 h1 v17.3 h-1 Z M1213 123.7 h3 v19 h-3 Z M1214 122.1 h1 v26.9 h-1 Z M1217 141.6 h3 v18 h-3 Z M1218 140.5 h1 v69.9 h-1 Z M1229 148.3 h3 v24.7 h-3 Z M1230 146.8 h1 v30.7 h-1 Z M1233 171.4 h3 v25.1 h-3 Z M1234 168.1 h1 v36.9 h-1 Z M1237 195.4 h3 v38.8 h-3 Z M1238 192 h1 v71.8 h-1 Z M1245 199.9 h3 v35.8 h-3 Z M1246 190.9 h1 v45.5 h-1 Z M1265 172.3 h3 v6.3 h-3 Z M1266 164.7 h1 v30.7 h-1 Z M1269 178.3 h3 v15 h-3 Z M1270 173.1 h1 v20.7 h-1 Z M1277 186.4 h3 v6.3 h-3 Z M1278 177.7 h1 v15.6 h-1 Z M1285 184.1 h3 v3.3 h-3 Z M1286 182.2 h1 v16.3 h-1 Z M1293 186.1 h3 v11.6 h-3 Z M1294 182.6 h1 v19.4 h-1 Z M1297 196.8 h3 v29 h-3 Z M1298 196.2 h1 v35.6 h-1 Z M1305 221.9 h3 v16.7 h-3 Z M1306 211.8 h1 v36.9 h-1 Z M1317 211.4 h3 v15.3 h-3 Z M1318 203 h1 v24.3 h-1 Z M1321 225.4 h3 v11.7 h-3 Z M1322 224.4 h1 v21.8 h-1 Z M1333 223 h3 v6.7 h-3 Z M1334 221.5 h1 v11.3 h-1 Z M1337 228.9 h3 v5.8 h-3 Z M1338 221.5 h1 v14.6 h-1 Z M1345 217.2 h3 v15.6 h-3 Z M1346 213.7 h1 v27.6 h-1 Z M1349 231.6 h3 v28.4 h-3 Z M1350 228.9 h1 v31.5 h-1 Z M1353 258.5 h3 v7.8 h-3 Z M1354 250.3 h1 v26.1 h-1 Z M1361 258.1 h3 v17.5 h-3 Z M1362 255.5 h1 v28.3 h-1 Z M1389 205.9 h3 v10.7 h-3 Z M1390 202 h1 v17.1 h-1 Z M1397 201 h3 v4.9 h-3 Z M1398 191.9 h1 v15 h-1 Z M1401 204.9 h3 v4.9 h-3 Z M1402 197.7 h1 v14.1 h-1 Z" fill="#e0485d"/>
<line x1="0" x2="559" y1="440.5" y2="440.5" stroke="#38a012" stroke-width="2.0"/>
<line x1="46" x2="1435" y1="264.5" y2="264.5" stroke="#38a012" stroke-width="2.0"/>
<line x1="318" x2="1435" y1="239.5" y2="239.5" stroke="#38a012" stroke-width="2.0"/>
<line x1="718.5" x2="890.5" y1="206.5" y2="206.5" stroke="#38a012" stroke-width="2.0"/>
<line x1="994.5" x2="1443" y1="165.5" y2="165.5" stroke="#c8178a" stroke-width="2.0"/>
<line x1="214.5" y1="427.4" x2="813" y2="258.3" stroke="#38a012" stroke-width="2.1" stroke-linecap="round"/>
<rect x="1405.5" y="685" width="2" height="12" fill="none" stroke="#333" stroke-width="0.8" stroke-dasharray="1.6 1.2"/>
<path d="M1 682.1 h3 v15.4 h-3 Z M5 692.2 h3 v5.3 h-3 Z M37 596.2 h3 v101.3 h-3 Z M49 680.1 h3 v17.4 h-3 Z M53 643.1 h3 v54.4 h-3 Z M77 681 h3 v16.5 h-3 Z M89 677.2 h3 v20.3 h-3 Z M105 685.1 h3 v12.4 h-3 Z M117 643.1 h3 v54.4 h-3 Z M121 679.1 h3 v18.4 h-3 Z M125 647 h3 v50.5 h-3 Z M137 666.2 h3 v31.3 h-3 Z M141 677.2 h3 v20.3 h-3 Z M153 686.2 h3 v11.3 h-3 Z M161 690.1 h3 v7.4 h-3 Z M181 672.3 h3 v25.2 h-3 Z M189 682.4 h3 v15.1 h-3 Z M193 690.1 h3 v7.4 h-3 Z M197 640.2 h3 v57.3 h-3 Z M201 639.3 h3 v58.2 h-3 Z M205 670 h3 v27.5 h-3 Z M209 636.3 h3 v61.2 h-3 Z M229 679.4 h3 v18.1 h-3 Z M233 667.3 h3 v30.2 h-3 Z M241 684.2 h3 v13.3 h-3 Z M245 671.2 h3 v26.3 h-3 Z M253 683.3 h3 v14.2 h-3 Z M269 686.8 h3 v10.7 h-3 Z M293 685.3 h3 v12.2 h-3 Z M301 686 h3 v11.5 h-3 Z M305 673.2 h3 v24.3 h-3 Z M309 663.3 h3 v34.2 h-3 Z M333 683.3 h3 v14.2 h-3 Z M337 688.3 h3 v9.2 h-3 Z M345 682.2 h3 v15.3 h-3 Z M357 689.3 h3 v8.2 h-3 Z M365 688.3 h3 v9.2 h-3 Z M381 690.2 h3 v7.3 h-3 Z M401 675.1 h3 v22.4 h-3 Z M405 674.2 h3 v23.3 h-3 Z M413 679.2 h3 v18.3 h-3 Z M421 665.2 h3 v32.3 h-3 Z M437 680.3 h3 v17.2 h-3 Z M441 680.3 h3 v17.2 h-3 Z M445 664.4 h3 v33.1 h-3 Z M449 662.3 h3 v35.2 h-3 Z M457 674.2 h3 v23.3 h-3 Z M465 678.2 h3 v19.3 h-3 Z M481 690.2 h3 v7.3 h-3 Z M485 685.3 h3 v12.2 h-3 Z M493 683.3 h3 v14.2 h-3 Z M505 691.3 h3 v6.2 h-3 Z M521 687.2 h3 v10.3 h-3 Z M537 685.3 h3 v12.2 h-3 Z M541 685.3 h3 v12.2 h-3 Z M549 681.5 h3 v16 h-3 Z M553 677.4 h3 v20.1 h-3 Z M557 682.2 h3 v15.3 h-3 Z M565 682.5 h3 v15 h-3 Z M569 673.5 h3 v24 h-3 Z M581 686.3 h3 v11.2 h-3 Z M585 685.3 h3 v12.2 h-3 Z M589 679.2 h3 v18.3 h-3 Z M597 667.4 h3 v30.1 h-3 Z M601 685.3 h3 v12.2 h-3 Z M609 685.3 h3 v12.2 h-3 Z M621 687.2 h3 v10.3 h-3 Z M625 690.2 h3 v7.3 h-3 Z M629 686.3 h3 v11.2 h-3 Z M633 684.2 h3 v13.3 h-3 Z M641 681.5 h3 v16 h-3 Z M645 681.9 h3 v15.6 h-3 Z M653 684.2 h3 v13.3 h-3 Z M661 691.3 h3 v6.2 h-3 Z M677 692.4 h3 v5.1 h-3 Z M681 692.4 h3 v5.1 h-3 Z M689 685.3 h3 v12.2 h-3 Z M693 687.2 h3 v10.3 h-3 Z M713 692.4 h3 v5.1 h-3 Z M725 686.3 h3 v11.2 h-3 Z M745 683.3 h3 v14.2 h-3 Z M757 683.3 h3 v14.2 h-3 Z M773 681.5 h3 v16 h-3 Z M781 675.1 h3 v22.4 h-3 Z M785 676.5 h3 v21 h-3 Z M793 687.2 h3 v10.3 h-3 Z M805 686.3 h3 v11.2 h-3 Z M813 680.4 h3 v17.1 h-3 Z M821 679.2 h3 v18.3 h-3 Z M825 689.3 h3 v8.2 h-3 Z M833 688.3 h3 v9.2 h-3 Z M841 691.3 h3 v6.2 h-3 Z M845 683.3 h3 v14.2 h-3 Z M853 691.3 h3 v6.2 h-3 Z M857 671.2 h3 v26.3 h-3 Z M869 686.3 h3 v11.2 h-3 Z M885 684.2 h3 v13.3 h-3 Z M893 688.3 h3 v9.2 h-3 Z M905 688.3 h3 v9.2 h-3 Z M913 692.4 h3 v5.1 h-3 Z M925 685.3 h3 v12.2 h-3 Z M929 676.5 h3 v21 h-3 Z M937 694.3 h3 v3.2 h-3 Z M945 692.4 h3 v5.1 h-3 Z M957 692.4 h3 v5.1 h-3 Z M961 693.3 h3 v4.2 h-3 Z M965 693.3 h3 v4.2 h-3 Z M985 693.3 h3 v4.2 h-3 Z M993 691.3 h3 v6.2 h-3 Z M997 685.3 h3 v12.2 h-3 Z M1005 692.4 h3 v5.1 h-3 Z M1013 692.4 h3 v5.1 h-3 Z M1021 694.3 h3 v3.2 h-3 Z M1025 690.2 h3 v7.3 h-3 Z M1033 695.4 h3 v2.1 h-3 Z M1037 672.4 h3 v25.1 h-3 Z M1057 691.3 h3 v6.2 h-3 Z M1065 692.4 h3 v5.1 h-3 Z M1069 692.4 h3 v5.1 h-3 Z M1073 685.3 h3 v12.2 h-3 Z M1077 690.5 h3 v7 h-3 Z M1085 691.3 h3 v6.2 h-3 Z M1117 690.2 h3 v7.3 h-3 Z M1133 691.3 h3 v6.2 h-3 Z M1145 692.4 h3 v5.1 h-3 Z M1161 686.3 h3 v11.2 h-3 Z M1169 684.2 h3 v13.3 h-3 Z M1177 679.2 h3 v18.3 h-3 Z M1185 691.3 h3 v6.2 h-3 Z M1193 692.4 h3 v5.1 h-3 Z M1201 692.4 h3 v5.1 h-3 Z M1205 686.3 h3 v11.2 h-3 Z M1213 682.2 h3 v15.3 h-3 Z M1217 644.5 h3 v53 h-3 Z M1229 684.2 h3 v13.3 h-3 Z M1233 671.2 h3 v26.3 h-3 Z M1237 641.4 h3 v56.1 h-3 Z M1245 682.2 h3 v15.3 h-3 Z M1265 679.2 h3 v18.3 h-3 Z M1269 690.2 h3 v7.3 h-3 Z M1277 692.4 h3 v5.1 h-3 Z M1285 689.3 h3 v8.2 h-3 Z M1293 690.2 h3 v7.3 h-3 Z M1297 686.3 h3 v11.2 h-3 Z M1305 681.5 h3 v16 h-3 Z M1317 691.3 h3 v6.2 h-3 Z M1321 688.3 h3 v9.2 h-3 Z M1329 691.3 h3 v6.2 h-3 Z M1333 689.3 h3 v8.2 h-3 Z M1337 687.5 h3 v10 h-3 Z M1345 690.2 h3 v7.3 h-3 Z M1349 686.3 h3 v11.2 h-3 Z M1353 677.4 h3 v20.1 h-3 Z M1361 682.2 h3 v15.3 h-3 Z M1389 687.2 h3 v10.3 h-3 Z M1397 685.3 h3 v12.2 h-3 Z M1401 689.3 h3 v8.2 h-3 Z" fill="#c9101f"/>
<path d="M9.5 682.3 h2 v15.2 h-2 Z M13.5 681.1 h2 v16.4 h-2 Z M17.5 641.8 h2 v55.7 h-2 Z M21.5 640.7 h2 v56.8 h-2 Z M25.5 668.7 h2 v28.8 h-2 Z M29.5 672.8 h2 v24.7 h-2 Z M33.5 618.7 h2 v78.8 h-2 Z M41.5 648.6 h2 v48.9 h-2 Z M45.5 666.7 h2 v30.8 h-2 Z M57.5 663.7 h2 v33.8 h-2 Z M61.5 678.8 h2 v18.7 h-2 Z M65.5 676.8 h2 v20.7 h-2 Z M69.5 673.8 h2 v23.7 h-2 Z M73.5 680.8 h2 v16.7 h-2 Z M81.5 673.8 h2 v23.7 h-2 Z M85.5 669.7 h2 v27.8 h-2 Z M93.5 666.7 h2 v30.8 h-2 Z M97.5 668.7 h2 v28.8 h-2 Z M101.5 679.9 h2 v17.6 h-2 Z M109.5 681.8 h2 v15.7 h-2 Z M113.5 681.8 h2 v15.7 h-2 Z M129.5 673.8 h2 v23.7 h-2 Z M133.5 670.8 h2 v26.7 h-2 Z M145.5 677.7 h2 v19.8 h-2 Z M149.5 682.9 h2 v14.6 h-2 Z M157.5 687.1 h2 v10.4 h-2 Z M165.5 690.6 h2 v6.9 h-2 Z M169.5 681.1 h2 v16.4 h-2 Z M173.5 681.1 h2 v16.4 h-2 Z M177.5 687.9 h2 v9.6 h-2 Z M185.5 667.8 h2 v29.7 h-2 Z M213.5 641.8 h2 v55.7 h-2 Z M217.5 675.8 h2 v21.7 h-2 Z M221.5 679.9 h2 v17.6 h-2 Z M225.5 681.5 h2 v16 h-2 Z M237.5 680.2 h2 v17.3 h-2 Z M249.5 683.8 h2 v13.7 h-2 Z M257.5 686.1 h2 v11.4 h-2 Z M261.5 688.8 h2 v8.7 h-2 Z M265.5 688.8 h2 v8.7 h-2 Z M273.5 686.2 h2 v11.3 h-2 Z M277.5 687.3 h2 v10.2 h-2 Z M281.5 680.9 h2 v16.6 h-2 Z M285.5 686.2 h2 v11.3 h-2 Z M289.5 686.2 h2 v11.3 h-2 Z M297.5 680 h2 v17.5 h-2 Z M313.5 688 h2 v9.5 h-2 Z M317.5 687 h2 v10.5 h-2 Z M321.5 689.8 h2 v7.7 h-2 Z M325.5 687 h2 v10.5 h-2 Z M329.5 680 h2 v17.5 h-2 Z M341.5 688.8 h2 v8.7 h-2 Z M349.5 685 h2 v12.5 h-2 Z M353.5 686.5 h2 v11 h-2 Z M361.5 691.8 h2 v5.7 h-2 Z M369.5 690.3 h2 v7.2 h-2 Z M373.5 690.7 h2 v6.8 h-2 Z M377.5 685 h2 v12.5 h-2 Z M385.5 692.9 h2 v4.6 h-2 Z M389.5 675.9 h2 v21.6 h-2 Z M393.5 683 h2 v14.5 h-2 Z M397.5 672.9 h2 v24.6 h-2 Z M409.5 685.8 h2 v11.7 h-2 Z M417.5 680.9 h2 v16.6 h-2 Z M425.5 670.9 h2 v26.6 h-2 Z M429.5 677.9 h2 v19.6 h-2 Z M433.5 685 h2 v12.5 h-2 Z M453.5 675.9 h2 v21.6 h-2 Z M461.5 645.7 h2 v51.8 h-2 Z M469.5 677.9 h2 v19.6 h-2 Z M473.5 685 h2 v12.5 h-2 Z M477.5 686.8 h2 v10.7 h-2 Z M489.5 689.8 h2 v7.7 h-2 Z M497.5 685 h2 v12.5 h-2 Z M501.5 688.8 h2 v8.7 h-2 Z M509.5 688.8 h2 v8.7 h-2 Z M513.5 683 h2 v14.5 h-2 Z M517.5 686.8 h2 v10.7 h-2 Z M525.5 683.8 h2 v13.7 h-2 Z M529.5 688.8 h2 v8.7 h-2 Z M533.5 677 h2 v20.5 h-2 Z M545.5 684.7 h2 v12.8 h-2 Z M561.5 684.7 h2 v12.8 h-2 Z M573.5 682 h2 v15.5 h-2 Z M577.5 687.7 h2 v9.8 h-2 Z M593.5 662.8 h2 v34.7 h-2 Z M605.5 684.7 h2 v12.8 h-2 Z M613.5 683.8 h2 v13.7 h-2 Z M617.5 680 h2 v17.5 h-2 Z M637.5 658.9 h2 v38.6 h-2 Z M649.5 686.8 h2 v10.7 h-2 Z M657.5 688.8 h2 v8.7 h-2 Z M665.5 690.7 h2 v6.8 h-2 Z M669.5 692.9 h2 v4.6 h-2 Z M673.5 694.8 h2 v2.7 h-2 Z M685.5 693.8 h2 v3.7 h-2 Z M697.5 693.8 h2 v3.7 h-2 Z M701.5 688.8 h2 v8.7 h-2 Z M705.5 691 h2 v6.5 h-2 Z M709.5 691.4 h2 v6.1 h-2 Z M717.5 694.8 h2 v2.7 h-2 Z M721.5 692.9 h2 v4.6 h-2 Z M729.5 688.8 h2 v8.7 h-2 Z M733.5 680 h2 v17.5 h-2 Z M737.5 683.8 h2 v13.7 h-2 Z M741.5 675.9 h2 v21.6 h-2 Z M749.5 687.7 h2 v9.8 h-2 Z M753.5 683.8 h2 v13.7 h-2 Z M761.5 683 h2 v14.5 h-2 Z M765.5 680.9 h2 v16.6 h-2 Z M769.5 691.8 h2 v5.7 h-2 Z M777.5 688.8 h2 v8.7 h-2 Z M789.5 684.7 h2 v12.8 h-2 Z M797.5 687.7 h2 v9.8 h-2 Z M801.5 688.8 h2 v8.7 h-2 Z M809.5 680.9 h2 v16.6 h-2 Z M817.5 692.9 h2 v4.6 h-2 Z M829.5 687.7 h2 v9.8 h-2 Z M837.5 689.8 h2 v7.7 h-2 Z M849.5 688.8 h2 v8.7 h-2 Z M861.5 680 h2 v17.5 h-2 Z M865.5 688.8 h2 v8.7 h-2 Z M873.5 688.8 h2 v8.7 h-2 Z M877.5 687.7 h2 v9.8 h-2 Z M881.5 660.8 h2 v36.7 h-2 Z M889.5 691.8 h2 v5.7 h-2 Z M897.5 689.8 h2 v7.7 h-2 Z M901.5 677.9 h2 v19.6 h-2 Z M909.5 689.8 h2 v7.7 h-2 Z M917.5 688 h2 v9.5 h-2 Z M921.5 689.8 h2 v7.7 h-2 Z M933.5 690.7 h2 v6.8 h-2 Z M941.5 692.9 h2 v4.6 h-2 Z M949.5 691.8 h2 v5.7 h-2 Z M953.5 688 h2 v9.5 h-2 Z M969.5 693.8 h2 v3.7 h-2 Z M973.5 693.8 h2 v3.7 h-2 Z M977.5 689.8 h2 v7.7 h-2 Z M981.5 686.1 h2 v11.4 h-2 Z M989.5 692.9 h2 v4.6 h-2 Z M1001.5 691.8 h2 v5.7 h-2 Z M1009.5 695.9 h2 v1.6 h-2 Z M1017.5 692.9 h2 v4.6 h-2 Z M1029.5 694.8 h2 v2.7 h-2 Z M1041.5 688.8 h2 v8.7 h-2 Z M1045.5 691.8 h2 v5.7 h-2 Z M1049.5 691.8 h2 v5.7 h-2 Z M1053.5 692.9 h2 v4.6 h-2 Z M1061.5 690.7 h2 v6.8 h-2 Z M1081.5 694.8 h2 v2.7 h-2 Z M1089.5 688 h2 v9.5 h-2 Z M1093.5 691.8 h2 v5.7 h-2 Z M1097.5 688 h2 v9.5 h-2 Z M1101.5 691.8 h2 v5.7 h-2 Z M1105.5 695.6 h2 v1.9 h-2 Z M1109.5 688.8 h2 v8.7 h-2 Z M1113.5 691.8 h2 v5.7 h-2 Z M1121.5 691.8 h2 v5.7 h-2 Z M1125.5 693.8 h2 v3.7 h-2 Z M1129.5 693.8 h2 v3.7 h-2 Z M1137.5 693.8 h2 v3.7 h-2 Z M1141.5 691.8 h2 v5.7 h-2 Z M1149.5 689.8 h2 v7.7 h-2 Z M1153.5 695.9 h2 v1.6 h-2 Z M1157.5 688 h2 v9.5 h-2 Z M1165.5 691.8 h2 v5.7 h-2 Z M1173.5 692.9 h2 v4.6 h-2 Z M1181.5 690.7 h2 v6.8 h-2 Z M1189.5 691.8 h2 v5.7 h-2 Z M1197.5 694.8 h2 v2.7 h-2 Z M1209.5 688 h2 v9.5 h-2 Z M1221.5 687.7 h2 v9.8 h-2 Z M1225.5 692.9 h2 v4.6 h-2 Z M1241.5 679 h2 v18.5 h-2 Z M1249.5 688.8 h2 v8.7 h-2 Z M1253.5 686.8 h2 v10.7 h-2 Z M1257.5 688.8 h2 v8.7 h-2 Z M1261.5 686.8 h2 v10.7 h-2 Z M1273.5 686.1 h2 v11.4 h-2 Z M1281.5 690.7 h2 v6.8 h-2 Z M1289.5 688.8 h2 v8.7 h-2 Z M1301.5 685 h2 v12.5 h-2 Z M1309.5 686.8 h2 v10.7 h-2 Z M1313.5 688.8 h2 v8.7 h-2 Z M1325.5 691.8 h2 v5.7 h-2 Z M1341.5 692.9 h2 v4.6 h-2 Z M1357.5 688.8 h2 v8.7 h-2 Z M1365.5 685 h2 v12.5 h-2 Z M1369.5 689.8 h2 v7.7 h-2 Z M1373.5 690.7 h2 v6.8 h-2 Z M1377.5 690.7 h2 v6.8 h-2 Z M1381.5 683.8 h2 v13.7 h-2 Z M1385.5 688.8 h2 v8.7 h-2 Z M1393.5 693.8 h2 v3.7 h-2 Z" fill="none" stroke="#52ae80" stroke-width="1"/>
<path d="M0 681.5 L2.5 681.2 L6.5 683.5 L10.5 683.6 L14.5 683.5 L18.5 675.6 L22.5 667.2 L26.5 662.4 L30.5 660.5 L34.5 648 L38.5 639 L42.5 640.6 L46.5 640.2 L50.5 641.8 L54.5 646.7 L58.5 660.1 L62.5 666.2 L66.5 668.2 L70.5 666.8 L74.5 674.3 L78.5 677.8 L82.5 676.8 L86.5 675.4 L90.5 676.2 L94.5 673.4 L98.5 670.8 L102.5 672 L106.5 675.2 L110.5 676 L114.5 679.1 L118.5 674 L122.5 674 L126.5 666.4 L130.5 664.8 L134.5 662.6 L138.5 667.2 L142.5 666.8 L146.5 672.8 L150.5 674.7 L154.5 677.8 L158.5 681.9 L162.5 684.5 L166.5 687.1 L170.5 686.7 L174.5 685.6 L178.5 685.8 L182.5 682.2 L186.5 677.6 L190.5 678 L194.5 679.9 L198.5 670.5 L202.5 663.9 L206.5 664.4 L210.5 655.2 L214.5 645.4 L218.5 652.4 L222.5 660.5 L226.5 662.7 L230.5 671.3 L234.5 676.5 L238.5 677.4 L242.5 678.3 L246.5 676.4 L250.5 677.1 L254.5 680.3 L258.5 681.5 L262.5 682.3 L266.5 685.8 L270.5 686.5 L274.5 686.9 L278.5 687.2 L282.5 685.6 L286.5 685.1 L290.5 684.9 L294.5 684.8 L298.5 683.3 L302.5 684.4 L306.5 681.9 L310.5 677.5 L314.5 677.9 L318.5 679.3 L322.5 680 L326.5 682.6 L330.5 685.9 L334.5 685 L338.5 685.4 L342.5 685.2 L346.5 684.3 L350.5 685.3 L354.5 685.9 L358.5 686.1 L362.5 686.7 L366.5 687.9 L370.5 688.9 L374.5 689.8 L378.5 688.8 L382.5 688.6 L386.5 689.4 L390.5 686.5 L394.5 685 L398.5 682.6 L402.5 679.6 L406.5 675.9 L410.5 677.9 L414.5 677.2 L418.5 678.8 L422.5 676.9 L426.5 676.1 L430.5 674.5 L434.5 675.6 L438.5 675.6 L442.5 678.6 L446.5 677.4 L450.5 674.4 L454.5 672.5 L458.5 671.3 L462.5 664.3 L466.5 667.1 L470.5 670.1 L474.5 671.9 L478.5 674.3 L482.5 683.3 L486.5 684.7 L490.5 687.1 L494.5 686.9 L498.5 686.5 L502.5 686.1 L506.5 687.3 L510.5 687.1 L514.5 687 L518.5 687.3 L522.5 687.1 L526.5 685.5 L530.5 685.5 L534.5 684.3 L538.5 684.1 L542.5 683.7 L546.5 683.9 L550.5 682.6 L554.5 682.7 L558.5 682.1 L562.5 681.9 L566.5 681.6 L570.5 680 L574.5 680.8 L578.5 681.8 L582.5 682.2 L586.5 682.8 L590.5 683.9 L594.5 680.1 L598.5 676.1 L602.5 675.9 L606.5 675.7 L610.5 676.9 L614.5 681.1 L618.5 683.5 L622.5 683.9 L626.5 685.1 L630.5 685.3 L634.5 685.5 L638.5 681.3 L642.5 680.1 L646.5 678.5 L650.5 678.5 L654.5 678.5 L658.5 684.4 L662.5 686.4 L666.5 688.1 L670.5 689.3 L674.5 691.3 L678.5 692.1 L682.5 692.3 L686.5 693 L690.5 691.5 L694.5 690.1 L698.5 690.3 L702.5 689.5 L706.5 688.9 L710.5 690 L714.5 691.1 L718.5 691.3 L722.5 692.1 L726.5 691.3 L730.5 690.7 L734.5 688.2 L738.5 686 L742.5 682.6 L746.5 682 L750.5 681.7 L754.5 682.5 L758.5 682.5 L762.5 683.9 L766.5 683.3 L770.5 684.2 L774.5 683.8 L778.5 684.8 L782.5 683.3 L786.5 682.5 L790.5 681.1 L794.5 682.3 L798.5 682 L802.5 684.7 L806.5 686.6 L810.5 685.9 L814.5 684.5 L818.5 685.6 L822.5 683.7 L826.5 684.3 L830.5 685.7 L834.5 687.3 L838.5 686.7 L842.5 689.1 L846.5 687.9 L850.5 688.1 L854.5 688.7 L858.5 685.1 L862.5 682.7 L866.5 683.7 L870.5 683.3 L874.5 682.7 L878.5 685.9 L882.5 682.1 L886.5 681.3 L890.5 682.3 L894.5 682.3 L898.5 682.7 L902.5 686.1 L906.5 686.9 L910.5 686.5 L914.5 687.3 L918.5 687 L922.5 689.4 L926.5 688.8 L930.5 686.2 L934.5 685.8 L938.5 687.1 L942.5 687.7 L946.5 689.2 L950.5 692.1 L954.5 691.6 L958.5 691.2 L962.5 691.4 L966.5 691.6 L970.5 692 L974.5 693.1 L978.5 692.5 L982.5 691 L986.5 691 L990.5 690.8 L994.5 690.4 L998.5 689.6 L1002.5 690.7 L1006.5 690.5 L1010.5 691.1 L1014.5 691.4 L1018.5 692.8 L1022.5 693.4 L1026.5 692.9 L1030.5 692.7 L1034.5 693.3 L1038.5 689.3 L1042.5 688.1 L1046.5 688.3 L1050.5 687.7 L1054.5 687.1 L1058.5 690.9 L1062.5 691.3 L1066.5 691.5 L1070.5 691.7 L1074.5 690.3 L1078.5 690.2 L1082.5 691 L1086.5 690.8 L1090.5 689.8 L1094.5 691 L1098.5 690.4 L1102.5 689.8 L1106.5 690.5 L1110.5 690.7 L1114.5 690.7 L1118.5 691.2 L1122.5 691.2 L1126.5 690.9 L1130.5 691.9 L1134.5 691.9 L1138.5 692.5 L1142.5 692.5 L1146.5 692.3 L1150.5 691.5 L1154.5 692.3 L1158.5 691.2 L1162.5 690.2 L1166.5 690 L1170.5 688.9 L1174.5 688.3 L1178.5 686.7 L1182.5 687.5 L1186.5 687.5 L1190.5 688.9 L1194.5 688.9 L1198.5 691.9 L1202.5 692.3 L1206.5 691.3 L1210.5 690.6 L1214.5 688.5 L1218.5 678.6 L1222.5 677.5 L1226.5 678.8 L1230.5 678.1 L1234.5 675.9 L1238.5 675.3 L1242.5 673.5 L1246.5 671.5 L1250.5 672.3 L1254.5 675.3 L1258.5 684.7 L1262.5 686.3 L1266.5 685.7 L1270.5 686.1 L1274.5 685.9 L1278.5 686.7 L1282.5 687.5 L1286.5 689.5 L1290.5 689.2 L1294.5 690.1 L1298.5 688.9 L1302.5 687.7 L1306.5 686.2 L1310.5 685.8 L1314.5 685.4 L1318.5 686.4 L1322.5 687.1 L1326.5 689.1 L1330.5 690.1 L1334.5 690.3 L1338.5 689.5 L1342.5 690.4 L1346.5 690.1 L1350.5 689.1 L1354.5 686.8 L1358.5 686.9 L1362.5 684.9 L1366.5 683.7 L1370.5 684.3 L1374.5 686.9 L1378.5 687.3 L1382.5 687.5 L1386.5 688.3 L1390.5 687.8 L1394.5 688.5 L1398.5 687.5 L1402.5 688.7 L1406.5 688.1" fill="none" stroke="#3fd0b4" stroke-width="1.1" stroke-linejoin="round" stroke-linecap="round" />
<path d="M0 685.9 L2.5 685.6 L6.5 686.2 L10.5 685.8 L14.5 685.3 L18.5 680.8 L22.5 676.2 L26.5 674.4 L30.5 673.1 L34.5 666.3 L38.5 657.3 L42.5 653.9 L46.5 651.3 L50.5 651.1 L54.5 647.4 L58.5 649.6 L62.5 653.4 L66.5 654.2 L70.5 654.3 L74.5 660.5 L78.5 669 L82.5 671.5 L86.5 671.8 L90.5 671.5 L94.5 673.8 L98.5 674.3 L102.5 674.4 L106.5 675.3 L110.5 676.1 L114.5 676.2 L118.5 672.4 L122.5 673 L126.5 670.8 L130.5 670.4 L134.5 670.8 L138.5 670.6 L142.5 670.4 L146.5 669.6 L150.5 669.7 L154.5 670.2 L158.5 674.5 L162.5 675.6 L166.5 680 L170.5 680.7 L174.5 681.7 L178.5 683.8 L182.5 683.4 L186.5 682.4 L190.5 682.4 L194.5 682.8 L198.5 678.1 L202.5 673 L206.5 671 L210.5 666.6 L214.5 662.7 L218.5 661.5 L222.5 662.2 L226.5 663.5 L230.5 663.2 L234.5 661 L238.5 664.9 L242.5 669.4 L246.5 669.5 L250.5 674.2 L254.5 678.4 L258.5 679.4 L262.5 680.3 L266.5 681.1 L270.5 681.8 L274.5 683.6 L278.5 684.4 L282.5 684 L286.5 685.4 L290.5 685.7 L294.5 685.9 L298.5 685.2 L302.5 685 L306.5 683.5 L310.5 681.2 L314.5 681.3 L318.5 681.3 L322.5 682.2 L326.5 682.3 L330.5 681.7 L334.5 681.5 L338.5 682.3 L342.5 682.6 L346.5 683.5 L350.5 685.6 L354.5 685.4 L358.5 685.7 L362.5 685.9 L366.5 686.1 L370.5 687.1 L374.5 687.8 L378.5 687.4 L382.5 687.6 L386.5 688.6 L390.5 687.7 L394.5 687.4 L398.5 685.7 L402.5 684.1 L406.5 682.7 L410.5 682.2 L414.5 681.1 L418.5 680.7 L422.5 678.2 L426.5 676 L430.5 676.2 L434.5 676.4 L438.5 677.2 L442.5 677.7 L446.5 676.7 L450.5 674.4 L454.5 674.1 L458.5 673.4 L462.5 671.4 L466.5 672.2 L470.5 672.2 L474.5 672.2 L478.5 672.8 L482.5 673.8 L486.5 675.9 L490.5 678.6 L494.5 679.4 L498.5 680.4 L502.5 684.7 L506.5 686 L510.5 687.1 L514.5 686.9 L518.5 686.9 L522.5 686.6 L526.5 686.4 L530.5 686.3 L534.5 685.6 L538.5 685.7 L542.5 685.4 L546.5 684.7 L550.5 684 L554.5 683.5 L558.5 683.1 L562.5 682.8 L566.5 682.7 L570.5 681.3 L574.5 681.8 L578.5 682 L582.5 682 L586.5 682.2 L590.5 681.9 L594.5 680.4 L598.5 678.9 L602.5 679 L606.5 679.2 L610.5 680.4 L614.5 680.6 L618.5 679.8 L622.5 679.9 L626.5 680.4 L630.5 681.1 L634.5 683.3 L638.5 682.4 L642.5 682 L646.5 681.8 L650.5 681.9 L654.5 682 L658.5 682.9 L662.5 683.3 L666.5 683.3 L670.5 683.9 L674.5 684.9 L678.5 688.3 L682.5 689.4 L686.5 690.5 L690.5 690.4 L694.5 690.7 L698.5 691.2 L702.5 690.9 L706.5 690.9 L710.5 690.8 L714.5 690.6 L718.5 690.8 L722.5 690.8 L726.5 690.1 L730.5 690.4 L734.5 689.6 L738.5 688.6 L742.5 687.3 L746.5 686.6 L750.5 686.2 L754.5 685.3 L758.5 684.2 L762.5 683.2 L766.5 682.6 L770.5 683 L774.5 683.1 L778.5 683.6 L782.5 683.6 L786.5 682.9 L790.5 682.6 L794.5 683 L798.5 683.4 L802.5 684 L806.5 684.6 L810.5 683.5 L814.5 683.4 L818.5 683.8 L822.5 684.2 L826.5 685.5 L830.5 685.8 L834.5 685.9 L838.5 686.1 L842.5 686.4 L846.5 686.1 L850.5 686.9 L854.5 688 L858.5 685.9 L862.5 685.9 L866.5 685.8 L870.5 685.7 L874.5 685.7 L878.5 685.5 L882.5 682.4 L886.5 682.5 L890.5 682.8 L894.5 682.5 L898.5 684.3 L902.5 684.1 L906.5 684.1 L910.5 684.4 L914.5 684.8 L918.5 684.8 L922.5 687.7 L926.5 687.8 L930.5 686.4 L934.5 686.5 L938.5 687 L942.5 688.5 L946.5 689 L950.5 689.2 L954.5 688.7 L958.5 689.2 L962.5 689.6 L966.5 690.4 L970.5 692 L974.5 692.4 L978.5 691.9 L982.5 691.2 L986.5 691.3 L990.5 691.4 L994.5 691.8 L998.5 691 L1002.5 690.8 L1006.5 690.8 L1010.5 691 L1014.5 690.9 L1018.5 691.2 L1022.5 692 L1026.5 691.7 L1030.5 691.9 L1034.5 692.3 L1038.5 691 L1042.5 690.8 L1046.5 690.6 L1050.5 690.2 L1054.5 690.2 L1058.5 690.1 L1062.5 689.7 L1066.5 689.9 L1070.5 689.7 L1074.5 688.7 L1078.5 690.5 L1082.5 691.1 L1086.5 691.1 L1090.5 690.8 L1094.5 690.6 L1098.5 690.3 L1102.5 690.4 L1106.5 690.6 L1110.5 690.2 L1114.5 690.8 L1118.5 690.8 L1122.5 690.5 L1126.5 690.7 L1130.5 691.3 L1134.5 691.3 L1138.5 691.9 L1142.5 691.9 L1146.5 691.6 L1150.5 691.7 L1154.5 692.1 L1158.5 691.8 L1162.5 691.3 L1166.5 691.1 L1170.5 690.2 L1174.5 690.3 L1178.5 688.9 L1182.5 688.8 L1186.5 688.7 L1190.5 688.9 L1194.5 688.6 L1198.5 689.3 L1202.5 689.9 L1206.5 689.4 L1210.5 689.7 L1214.5 688.7 L1218.5 685.2 L1222.5 684.9 L1226.5 685 L1230.5 684.3 L1234.5 682.2 L1238.5 676.9 L1242.5 675.5 L1246.5 675.1 L1250.5 675.2 L1254.5 675.6 L1258.5 680 L1262.5 679.9 L1266.5 678.6 L1270.5 679.2 L1274.5 680.6 L1278.5 685.7 L1282.5 686.9 L1286.5 687.6 L1290.5 687.6 L1294.5 688 L1298.5 687.8 L1302.5 687.6 L1306.5 687.9 L1310.5 687.5 L1314.5 687.7 L1318.5 687.6 L1322.5 687.4 L1326.5 687.6 L1330.5 687.9 L1334.5 687.8 L1338.5 688 L1342.5 688.8 L1346.5 689.6 L1350.5 689.6 L1354.5 688.5 L1358.5 688.2 L1362.5 687.6 L1366.5 686.9 L1370.5 686.7 L1374.5 686.8 L1378.5 687.1 L1382.5 686.2 L1386.5 686 L1390.5 686.1 L1394.5 687.7 L1398.5 687.4 L1402.5 688.1 L1406.5 688.2" fill="none" stroke="#ffb020" stroke-width="1.1" stroke-linejoin="round" stroke-linecap="round" />
<path d="M1 787.3 h3 v2 h-3 Z M5 787.3 h3 v2 h-3 Z M37 764.3 h3 v25 h-3 Z M41 764.8 h3 v24.5 h-3 Z M45 766.5 h3 v22.8 h-3 Z M49 769.1 h3 v20.2 h-3 Z M53 775.5 h3 v13.8 h-3 Z M57 780.6 h3 v8.7 h-3 Z M61 782.2 h3 v7.1 h-3 Z M65 783.6 h3 v5.7 h-3 Z M73 782.4 h3 v6.9 h-3 Z M77 785.3 h3 v4 h-3 Z M81 785.8 h3 v3.5 h-3 Z M89 784.4 h3 v4.9 h-3 Z M93 784.5 h3 v4.8 h-3 Z M105 784.5 h3 v4.8 h-3 Z M109 785.9 h3 v3.4 h-3 Z M117 786.1 h3 v3.2 h-3 Z M121 787.3 h3 v2 h-3 Z M293 768 h3 v21.3 h-3 Z M297 768.5 h3 v20.8 h-3 Z M301 771.2 h3 v18.1 h-3 Z M305 779.6 h3 v9.7 h-3 Z M309 786.1 h3 v3.2 h-3 Z M313 787.3 h3 v2 h-3 Z M317 787.3 h3 v2 h-3 Z M321 787.3 h3 v2 h-3 Z M337 783 h3 v6.3 h-3 Z M341 783.6 h3 v5.7 h-3 Z M345 787.3 h3 v2 h-3 Z M349 787.3 h3 v2 h-3 Z M405 772.3 h3 v17 h-3 Z M409 775.4 h3 v13.9 h-3 Z M413 780.2 h3 v9.1 h-3 Z M417 782.1 h3 v7.2 h-3 Z M505 786.7 h3 v2.6 h-3 Z M521 775.4 h3 v13.9 h-3 Z M525 775.6 h3 v13.7 h-3 Z M541 769.4 h3 v19.9 h-3 Z M545 770.3 h3 v19 h-3 Z M549 775.5 h3 v13.8 h-3 Z M553 784.3 h3 v5 h-3 Z M629 786.5 h3 v2.8 h-3 Z M633 787.1 h3 v2.2 h-3 Z M645 780.4 h3 v8.9 h-3 Z M653 783.4 h3 v5.9 h-3 Z M657 785.1 h3 v4.2 h-3 Z M661 787.3 h3 v2 h-3 Z M677 787.3 h3 v2 h-3 Z M757 768.2 h3 v21.1 h-3 Z M773 765.4 h3 v23.9 h-3 Z M777 767.4 h3 v21.9 h-3 Z M781 773.7 h3 v15.6 h-3 Z M785 781.4 h3 v7.9 h-3 Z M789 781.7 h3 v7.6 h-3 Z M793 787.3 h3 v2 h-3 Z M797 787.3 h3 v2 h-3 Z M805 787.3 h3 v2 h-3 Z M813 785.2 h3 v4.1 h-3 Z M817 785.9 h3 v3.4 h-3 Z M905 781.3 h3 v8 h-3 Z M913 781.6 h3 v7.7 h-3 Z M925 781.6 h3 v7.7 h-3 Z M993 787.3 h3 v2 h-3 Z M1133 778 h3 v11.3 h-3 Z M1137 779.7 h3 v9.6 h-3 Z M1141 780.5 h3 v8.8 h-3 Z M1145 782.6 h3 v6.7 h-3 Z M1153 782.4 h3 v6.9 h-3 Z M1161 780.7 h3 v8.6 h-3 Z M1165 781.2 h3 v8.1 h-3 Z M1169 784.1 h3 v5.2 h-3 Z M1173 785.4 h3 v3.9 h-3 Z M1293 780.8 h3 v8.5 h-3 Z M1297 787.3 h3 v2 h-3 Z M1337 786.7 h3 v2.6 h-3 Z M1345 782.8 h3 v6.5 h-3 Z M1349 787.3 h3 v2 h-3 Z M1397 759.8 h3 v29.5 h-3 Z M1401 762.1 h3 v27.2 h-3 Z M1405 764.2 h3 v25.1 h-3 Z" fill="#52b48a"/>
<path d="M125 789.3 h3 v6.9 h-3 Z M129 789.3 h3 v8 h-3 Z M137 789.3 h3 v7.5 h-3 Z M141 789.3 h3 v11.4 h-3 Z M145 789.3 h3 v11.5 h-3 Z M153 789.3 h3 v13 h-3 Z M181 789.3 h3 v2 h-3 Z M189 789.3 h3 v2.9 h-3 Z M193 789.3 h3 v6.3 h-3 Z M197 789.3 h3 v19.1 h-3 Z M201 789.3 h3 v28.9 h-3 Z M205 789.3 h3 v33.9 h-3 Z M209 789.3 h3 v41.9 h-3 Z M213 789.3 h3 v44.2 h-3 Z M357 789.3 h3 v2 h-3 Z M361 789.3 h3 v2 h-3 Z M365 789.3 h3 v3.7 h-3 Z M381 789.3 h3 v2.3 h-3 Z M421 789.3 h3 v2.3 h-3 Z M425 789.3 h3 v7.7 h-3 Z M437 789.3 h3 v4.6 h-3 Z M441 789.3 h3 v7.1 h-3 Z M445 789.3 h3 v13.8 h-3 Z M449 789.3 h3 v20.7 h-3 Z M453 789.3 h3 v21.2 h-3 Z M457 789.3 h3 v29.1 h-3 Z M493 789.3 h3 v2 h-3 Z M557 789.3 h3 v2 h-3 Z M561 789.3 h3 v5 h-3 Z M565 789.3 h3 v7.9 h-3 Z M569 789.3 h3 v11.7 h-3 Z M581 789.3 h3 v7.9 h-3 Z M585 789.3 h3 v9.9 h-3 Z M589 789.3 h3 v13.8 h-3 Z M597 789.3 h3 v13.5 h-3 Z M601 789.3 h3 v15 h-3 Z M681 789.3 h3 v2 h-3 Z M685 789.3 h3 v2 h-3 Z M689 789.3 h3 v5.2 h-3 Z M693 789.3 h3 v7.5 h-3 Z M697 789.3 h3 v8.1 h-3 Z M713 789.3 h3 v6.3 h-3 Z M821 789.3 h3 v2 h-3 Z M825 789.3 h3 v4 h-3 Z M829 789.3 h3 v5.9 h-3 Z M833 789.3 h3 v8 h-3 Z M841 789.3 h3 v9.4 h-3 Z M845 789.3 h3 v14.5 h-3 Z M849 789.3 h3 v16.8 h-3 Z M853 789.3 h3 v18.4 h-3 Z M857 789.3 h3 v24.9 h-3 Z M861 789.3 h3 v26.2 h-3 Z M929 789.3 h3 v2 h-3 Z M933 789.3 h3 v3.3 h-3 Z M937 789.3 h3 v5.6 h-3 Z M941 789.3 h3 v6.7 h-3 Z M945 789.3 h3 v8.2 h-3 Z M965 789.3 h3 v3.9 h-3 Z M969 789.3 h3 v4.3 h-3 Z M997 789.3 h3 v2.7 h-3 Z M1005 789.3 h3 v4.1 h-3 Z M1013 789.3 h3 v4.1 h-3 Z M1025 789.3 h3 v3.8 h-3 Z M1029 789.3 h3 v4.8 h-3 Z M1033 789.3 h3 v5.9 h-3 Z M1037 789.3 h3 v11.4 h-3 Z M1041 789.3 h3 v12.8 h-3 Z M1057 789.3 h3 v4.9 h-3 Z M1069 789.3 h3 v3.5 h-3 Z M1073 789.3 h3 v4.8 h-3 Z M1077 789.3 h3 v6.7 h-3 Z M1085 789.3 h3 v6.7 h-3 Z M1177 789.3 h3 v3.2 h-3 Z M1181 789.3 h3 v6 h-3 Z M1185 789.3 h3 v9.7 h-3 Z M1201 789.3 h3 v8.8 h-3 Z M1205 789.3 h3 v14.2 h-3 Z M1209 789.3 h3 v15.8 h-3 Z M1213 789.3 h3 v21.9 h-3 Z M1217 789.3 h3 v29.5 h-3 Z M1221 789.3 h3 v31.8 h-3 Z M1229 789.3 h3 v33.4 h-3 Z M1233 789.3 h3 v40.2 h-3 Z M1237 789.3 h3 v51.4 h-3 Z M1245 789.3 h3 v50.2 h-3 Z M1301 789.3 h3 v3.1 h-3 Z M1305 789.3 h3 v8.5 h-3 Z M1321 789.3 h3 v3.9 h-3 Z M1353 789.3 h3 v4.5 h-3 Z M1357 789.3 h3 v4.7 h-3 Z M1361 789.3 h3 v7.8 h-3 Z" fill="#e0485d"/>
<path d="M9.5 787.8 h2 v1 h-2 Z M13.5 785 h2 v3.8 h-2 Z M17.5 777.6 h2 v11.2 h-2 Z M21.5 773.6 h2 v15.2 h-2 Z M25.5 768.1 h2 v20.7 h-2 Z M29.5 763.1 h2 v25.7 h-2 Z M33.5 759.5 h2 v29.3 h-2 Z M69.5 782.8 h2 v6 h-2 Z M85.5 784 h2 v4.8 h-2 Z M97.5 782.9 h2 v5.9 h-2 Z M101.5 782 h2 v6.8 h-2 Z M113.5 785.2 h2 v3.6 h-2 Z M177.5 787.7 h2 v1.1 h-2 Z M261.5 787.8 h2 v1 h-2 Z M265.5 784.3 h2 v4.5 h-2 Z M269.5 783.9 h2 v4.9 h-2 Z M273.5 780 h2 v8.8 h-2 Z M277.5 776.6 h2 v12.2 h-2 Z M281.5 772 h2 v16.8 h-2 Z M285.5 768.4 h2 v20.4 h-2 Z M289.5 767 h2 v21.8 h-2 Z M325.5 787 h2 v1.8 h-2 Z M329.5 782.1 h2 v6.7 h-2 Z M333.5 781.4 h2 v7.4 h-2 Z M353.5 787.8 h2 v1 h-2 Z M389.5 784.6 h2 v4.2 h-2 Z M393.5 777.9 h2 v10.9 h-2 Z M397.5 770.7 h2 v18.1 h-2 Z M401.5 768.7 h2 v20.1 h-2 Z M489.5 787.8 h2 v1 h-2 Z M497.5 787.8 h2 v1 h-2 Z M501.5 786.8 h2 v2 h-2 Z M509.5 783.4 h2 v5.4 h-2 Z M513.5 779.6 h2 v9.2 h-2 Z M517.5 775.6 h2 v13.2 h-2 Z M529.5 772.3 h2 v16.5 h-2 Z M533.5 768.7 h2 v20.1 h-2 Z M537.5 768.2 h2 v20.6 h-2 Z M621.5 787.8 h2 v1 h-2 Z M625.5 786.7 h2 v2.1 h-2 Z M637.5 780.7 h2 v8.1 h-2 Z M641.5 778.5 h2 v10.3 h-2 Z M649.5 780.8 h2 v8 h-2 Z M665.5 787.5 h2 v1.3 h-2 Z M669.5 787.1 h2 v1.7 h-2 Z M673.5 786.7 h2 v2.1 h-2 Z M725.5 787.8 h2 v1 h-2 Z M729.5 783.5 h2 v5.3 h-2 Z M733.5 780.6 h2 v8.2 h-2 Z M737.5 779 h2 v9.8 h-2 Z M741.5 772.5 h2 v16.3 h-2 Z M745.5 770 h2 v18.8 h-2 Z M749.5 767.6 h2 v21.2 h-2 Z M753.5 766.9 h2 v21.9 h-2 Z M761.5 766.9 h2 v21.9 h-2 Z M765.5 766.2 h2 v22.6 h-2 Z M769.5 763.8 h2 v25 h-2 Z M801.5 787.8 h2 v1 h-2 Z M809.5 785.1 h2 v3.7 h-2 Z M885.5 787.8 h2 v1 h-2 Z M889.5 783.9 h2 v4.9 h-2 Z M893.5 782.3 h2 v6.5 h-2 Z M897.5 781.1 h2 v7.7 h-2 Z M901.5 780.7 h2 v8.1 h-2 Z M909.5 781.1 h2 v7.7 h-2 Z M917.5 780.3 h2 v8.5 h-2 Z M921.5 779.7 h2 v9.1 h-2 Z M981.5 787.8 h2 v1 h-2 Z M985.5 787.5 h2 v1.3 h-2 Z M989.5 784.7 h2 v4.1 h-2 Z M1097.5 787.8 h2 v1 h-2 Z M1101.5 785.9 h2 v2.9 h-2 Z M1105.5 783.7 h2 v5.1 h-2 Z M1109.5 779.4 h2 v9.4 h-2 Z M1113.5 776.8 h2 v12 h-2 Z M1117.5 776.6 h2 v12.2 h-2 Z M1121.5 776.3 h2 v12.5 h-2 Z M1125.5 775.7 h2 v13.1 h-2 Z M1129.5 775.5 h2 v13.3 h-2 Z M1149.5 782.8 h2 v6 h-2 Z M1157.5 779.4 h2 v9.4 h-2 Z M1265.5 787.8 h2 v1 h-2 Z M1269.5 787.8 h2 v1 h-2 Z M1273.5 785.6 h2 v3.2 h-2 Z M1277.5 785 h2 v3.8 h-2 Z M1281.5 781.9 h2 v6.9 h-2 Z M1285.5 780.5 h2 v8.3 h-2 Z M1289.5 779.2 h2 v9.6 h-2 Z M1329.5 787.6 h2 v1.2 h-2 Z M1333.5 787 h2 v1.8 h-2 Z M1341.5 782.7 h2 v6.1 h-2 Z M1369.5 787.4 h2 v1.4 h-2 Z M1373.5 782.6 h2 v6.2 h-2 Z M1377.5 779 h2 v9.8 h-2 Z M1381.5 770.7 h2 v18.1 h-2 Z M1385.5 764.1 h2 v24.7 h-2 Z M1389.5 763.4 h2 v25.4 h-2 Z M1393.5 760 h2 v28.8 h-2 Z" fill="none" stroke="#52b48a" stroke-width="0.9"/>
<path d="M133.5 789.8 h2 v4.6 h-2 Z M149.5 789.8 h2 v9.9 h-2 Z M157.5 789.8 h2 v11.5 h-2 Z M161.5 789.8 h2 v11.3 h-2 Z M165.5 789.8 h2 v10.2 h-2 Z M169.5 789.8 h2 v6.4 h-2 Z M173.5 789.8 h2 v1.6 h-2 Z M185.5 789.8 h2 v1 h-2 Z M217.5 789.8 h2 v35.5 h-2 Z M221.5 789.8 h2 v28.8 h-2 Z M225.5 789.8 h2 v19.3 h-2 Z M229.5 789.8 h2 v15.2 h-2 Z M233.5 789.8 h2 v14.8 h-2 Z M237.5 789.8 h2 v11.4 h-2 Z M241.5 789.8 h2 v11.1 h-2 Z M245.5 789.8 h2 v10.2 h-2 Z M249.5 789.8 h2 v6.7 h-2 Z M253.5 789.8 h2 v5 h-2 Z M257.5 789.8 h2 v2.5 h-2 Z M369.5 789.8 h2 v2.5 h-2 Z M373.5 789.8 h2 v2.1 h-2 Z M377.5 789.8 h2 v1 h-2 Z M385.5 789.8 h2 v1 h-2 Z M429.5 789.8 h2 v5.1 h-2 Z M433.5 789.8 h2 v1.9 h-2 Z M461.5 789.8 h2 v28 h-2 Z M465.5 789.8 h2 v27.7 h-2 Z M469.5 789.8 h2 v22.5 h-2 Z M473.5 789.8 h2 v15.6 h-2 Z M477.5 789.8 h2 v7.7 h-2 Z M481.5 789.8 h2 v4.7 h-2 Z M485.5 789.8 h2 v2.6 h-2 Z M573.5 789.8 h2 v8.4 h-2 Z M577.5 789.8 h2 v4.9 h-2 Z M593.5 789.8 h2 v12.4 h-2 Z M605.5 789.8 h2 v10.7 h-2 Z M609.5 789.8 h2 v8.3 h-2 Z M613.5 789.8 h2 v4.9 h-2 Z M617.5 789.8 h2 v1 h-2 Z M701.5 789.8 h2 v6.8 h-2 Z M705.5 789.8 h2 v5.6 h-2 Z M709.5 789.8 h2 v3.9 h-2 Z M717.5 789.8 h2 v3.6 h-2 Z M721.5 789.8 h2 v1 h-2 Z M837.5 789.8 h2 v6.1 h-2 Z M865.5 789.8 h2 v21.6 h-2 Z M869.5 789.8 h2 v21.1 h-2 Z M873.5 789.8 h2 v15.2 h-2 Z M877.5 789.8 h2 v9.8 h-2 Z M881.5 789.8 h2 v1 h-2 Z M949.5 789.8 h2 v6 h-2 Z M953.5 789.8 h2 v2.8 h-2 Z M957.5 789.8 h2 v1.7 h-2 Z M961.5 789.8 h2 v1.5 h-2 Z M973.5 789.8 h2 v3.1 h-2 Z M977.5 789.8 h2 v2.6 h-2 Z M1001.5 789.8 h2 v1.4 h-2 Z M1009.5 789.8 h2 v2.5 h-2 Z M1017.5 789.8 h2 v1.5 h-2 Z M1021.5 789.8 h2 v1 h-2 Z M1045.5 789.8 h2 v9.9 h-2 Z M1049.5 789.8 h2 v6.2 h-2 Z M1053.5 789.8 h2 v2.6 h-2 Z M1061.5 789.8 h2 v1.4 h-2 Z M1065.5 789.8 h2 v1.3 h-2 Z M1081.5 789.8 h2 v4.6 h-2 Z M1089.5 789.8 h2 v2.6 h-2 Z M1093.5 789.8 h2 v1 h-2 Z M1189.5 789.8 h2 v7.4 h-2 Z M1193.5 789.8 h2 v7.3 h-2 Z M1197.5 789.8 h2 v5.8 h-2 Z M1225.5 789.8 h2 v28.5 h-2 Z M1241.5 789.8 h2 v46.1 h-2 Z M1249.5 789.8 h2 v38.8 h-2 Z M1253.5 789.8 h2 v25.6 h-2 Z M1257.5 789.8 h2 v14.8 h-2 Z M1261.5 789.8 h2 v4.1 h-2 Z M1309.5 789.8 h2 v6.5 h-2 Z M1313.5 789.8 h2 v1.4 h-2 Z M1317.5 789.8 h2 v1.3 h-2 Z M1325.5 789.8 h2 v1 h-2 Z M1365.5 789.8 h2 v2.5 h-2 Z" fill="none" stroke="#e0485d" stroke-width="0.9"/>
<path d="M0 783.3 L2.5 783.1 L6.5 783.2 L10.5 782.2 L14.5 780.1 L18.5 774.9 L22.5 770.9 L26.5 765.4 L30.5 759.6 L34.5 754 L38.5 753.5 L42.5 750.7 L46.5 748.7 L50.5 747.5 L54.5 748.9 L58.5 750.4 L62.5 750.3 L66.5 750.3 L70.5 748.8 L74.5 748 L78.5 748.9 L82.5 748.7 L86.5 746.9 L90.5 746.7 L94.5 746.1 L98.5 744.2 L102.5 742.8 L106.5 743.7 L110.5 744 L114.5 742.8 L118.5 743.1 L122.5 744.2 L126.5 748.9 L130.5 750.4 L134.5 750 L138.5 751.9 L142.5 755.2 L146.5 756.7 L150.5 757.8 L154.5 760.4 L158.5 761.8 L162.5 763.2 L166.5 764 L170.5 763.1 L174.5 761 L178.5 758.4 L182.5 760.4 L186.5 760.4 L190.5 761.6 L194.5 764.1 L198.5 772.8 L202.5 781.3 L206.5 788.1 L210.5 797.3 L214.5 804 L218.5 804.8 L222.5 805.1 L226.5 802.9 L230.5 802.9 L234.5 804.7 L238.5 804.5 L242.5 805.8 L246.5 806.8 L250.5 806 L254.5 805.9 L258.5 805.1 L262.5 803 L266.5 799.8 L270.5 798.9 L274.5 795.7 L278.5 792.4 L282.5 787.8 L286.5 783.4 L290.5 779.8 L294.5 777.9 L298.5 775.6 L302.5 774.6 L306.5 777.7 L310.5 780.5 L314.5 781.2 L318.5 781.4 L322.5 781.4 L326.5 780 L330.5 776.6 L334.5 775.2 L338.5 775.4 L342.5 775 L346.5 777.4 L350.5 777.8 L354.5 777.2 L358.5 778.1 L362.5 778.2 L366.5 780.1 L370.5 780.5 L374.5 780.6 L378.5 780.3 L382.5 780.8 L386.5 779.8 L390.5 776.4 L394.5 771.6 L398.5 765.6 L402.5 761.9 L406.5 761.9 L410.5 761.7 L414.5 762.9 L418.5 763 L422.5 768.1 L426.5 771.7 L430.5 771.7 L434.5 770.5 L438.5 771.9 L442.5 774 L446.5 779.1 L450.5 785.2 L454.5 788.1 L458.5 795.6 L462.5 799.2 L466.5 802.6 L470.5 802.9 L474.5 801.6 L478.5 798.7 L482.5 798 L486.5 797.3 L490.5 795.4 L494.5 795.7 L498.5 795.3 L502.5 793.7 L506.5 793.5 L510.5 790.8 L514.5 787.6 L518.5 783.8 L522.5 782.2 L526.5 780.6 L530.5 776.5 L534.5 772.1 L538.5 769.1 L542.5 767.5 L546.5 765.6 L550.5 766.5 L554.5 770.2 L558.5 773.6 L562.5 776 L566.5 778.5 L570.5 781.9 L574.5 781.9 L578.5 780.9 L582.5 782.8 L586.5 785.1 L590.5 788.7 L594.5 790.2 L598.5 792 L602.5 794.6 L606.5 794.4 L610.5 794.4 L614.5 793.4 L618.5 790.6 L622.5 789.3 L626.5 788.3 L630.5 788.1 L634.5 788.1 L638.5 783.5 L642.5 781 L646.5 781.1 L650.5 780 L654.5 780.7 L658.5 781.1 L662.5 782.1 L666.5 781.5 L670.5 781 L674.5 780.4 L678.5 781.1 L682.5 782.3 L686.5 782.8 L690.5 785.3 L694.5 787.4 L698.5 788.7 L702.5 789.6 L706.5 789.8 L710.5 789.6 L714.5 791 L718.5 790.8 L722.5 788.8 L726.5 787.5 L730.5 784.4 L734.5 781.8 L738.5 779.6 L742.5 774.2 L746.5 770.5 L750.5 766.5 L754.5 763.3 L758.5 761.6 L762.5 757.8 L766.5 754.5 L770.5 750 L774.5 748.1 L778.5 746.4 L782.5 747.6 L786.5 750.4 L790.5 749.6 L794.5 752.3 L798.5 752.7 L802.5 752.2 L806.5 752.7 L810.5 749.9 L814.5 749.7 L818.5 749.6 L822.5 751.5 L826.5 753.8 L830.5 755.5 L834.5 757.6 L838.5 758.1 L842.5 760.4 L846.5 764.7 L850.5 768 L854.5 771.1 L858.5 777.4 L862.5 781.4 L866.5 782.4 L870.5 784.9 L874.5 784 L878.5 782.6 L882.5 778.5 L886.5 777.2 L890.5 773.7 L894.5 772 L898.5 770.3 L902.5 769 L906.5 768.5 L910.5 767.1 L914.5 766.6 L918.5 764.5 L922.5 763 L926.5 763.2 L930.5 767.3 L934.5 769.2 L938.5 771 L942.5 772.4 L946.5 774.2 L950.5 774.4 L954.5 773.3 L958.5 773.1 L962.5 773.3 L966.5 774.5 L970.5 775.3 L974.5 775.7 L978.5 775.9 L982.5 773.8 L986.5 772.6 L990.5 770.6 L994.5 771.9 L998.5 774.5 L1002.5 774.7 L1006.5 776 L1010.5 776.2 L1014.5 777 L1018.5 776.5 L1022.5 776.1 L1026.5 777.8 L1030.5 778.9 L1034.5 780.2 L1038.5 784.4 L1042.5 786.7 L1046.5 787.1 L1050.5 786.1 L1054.5 784.8 L1058.5 786.1 L1062.5 785.1 L1066.5 785.4 L1070.5 786.4 L1074.5 787.7 L1078.5 789.4 L1082.5 789.6 L1086.5 791 L1090.5 789.9 L1094.5 788.8 L1098.5 787.8 L1102.5 785.7 L1106.5 783.8 L1110.5 780.4 L1114.5 777.4 L1118.5 775.7 L1122.5 773.9 L1126.5 771.8 L1130.5 769.9 L1134.5 770 L1138.5 769.7 L1142.5 768.9 L1146.5 769.2 L1150.5 768.1 L1154.5 767.3 L1158.5 764.3 L1162.5 764.1 L1166.5 763.3 L1170.5 764.2 L1174.5 764.3 L1178.5 768.3 L1182.5 770.4 L1186.5 773.5 L1190.5 773.9 L1194.5 774.9 L1198.5 774.9 L1202.5 777.1 L1206.5 781.6 L1210.5 784.3 L1214.5 790.1 L1218.5 797.6 L1222.5 802.7 L1226.5 805.3 L1230.5 811.4 L1234.5 819.8 L1238.5 831.8 L1242.5 835.5 L1246.5 843.4 L1250.5 843.2 L1254.5 839.9 L1258.5 836.5 L1262.5 831.8 L1266.5 828.6 L1270.5 828.2 L1274.5 826.3 L1278.5 825.4 L1282.5 822.8 L1286.5 821 L1290.5 819 L1294.5 819 L1298.5 823 L1302.5 825.1 L1306.5 828.9 L1310.5 829.4 L1314.5 827.1 L1318.5 827.3 L1322.5 828.6 L1326.5 827.1 L1330.5 825.4 L1334.5 824.7 L1338.5 824.5 L1342.5 821.3 L1346.5 820.8 L1350.5 824 L1354.5 826.9 L1358.5 827.6 L1362.5 830.1 L1366.5 828.4 L1370.5 825.2 L1374.5 821.9 L1378.5 818.7 L1382.5 812.2 L1386.5 805.7 L1390.5 802 L1394.5 796.6 L1398.5 793 L1402.5 790.8 L1406.5 788.7" fill="none" stroke="#3fd0b4" stroke-width="1.1" stroke-linejoin="round" stroke-linecap="round" />
<path d="M0 783.5 L2.5 783.4 L6.5 783.4 L10.5 783.1 L14.5 782.5 L18.5 781 L22.5 779 L26.5 776.3 L30.5 772.9 L34.5 769.1 L38.5 766 L42.5 762.9 L46.5 760.1 L50.5 757.6 L54.5 755.9 L58.5 754.8 L62.5 753.9 L66.5 753.2 L70.5 752.3 L74.5 751.4 L78.5 750.9 L82.5 750.5 L86.5 749.8 L90.5 749.1 L94.5 748.5 L98.5 747.7 L102.5 746.7 L106.5 746.1 L110.5 745.7 L114.5 745.1 L118.5 744.7 L122.5 744.6 L126.5 745.4 L130.5 746.4 L134.5 747.1 L138.5 748.1 L142.5 749.5 L146.5 751 L150.5 752.3 L154.5 753.9 L158.5 755.5 L162.5 757 L166.5 758.4 L170.5 759.4 L174.5 759.7 L178.5 759.4 L182.5 759.6 L186.5 759.8 L190.5 760.1 L194.5 760.9 L198.5 763.3 L202.5 766.9 L206.5 771.1 L210.5 776.4 L214.5 781.9 L218.5 786.5 L222.5 790.2 L226.5 792.7 L230.5 794.8 L234.5 796.7 L238.5 798.3 L242.5 799.8 L246.5 801.2 L250.5 802.2 L254.5 802.9 L258.5 803.4 L262.5 803.3 L266.5 802.6 L270.5 801.8 L274.5 800.6 L278.5 799 L282.5 796.7 L286.5 794.1 L290.5 791.2 L294.5 788.6 L298.5 786 L302.5 783.7 L306.5 782.5 L310.5 782.1 L314.5 781.9 L318.5 781.8 L322.5 781.7 L326.5 781.4 L330.5 780.4 L334.5 779.4 L338.5 778.6 L342.5 777.9 L346.5 777.8 L350.5 777.8 L354.5 777.7 L358.5 777.7 L362.5 777.8 L366.5 778.3 L370.5 778.7 L374.5 779.1 L378.5 779.3 L382.5 779.6 L386.5 779.7 L390.5 779 L394.5 777.5 L398.5 775.1 L402.5 772.5 L406.5 770.4 L410.5 768.6 L414.5 767.5 L418.5 766.6 L422.5 766.9 L426.5 767.9 L430.5 768.6 L434.5 769 L438.5 769.6 L442.5 770.5 L446.5 772.2 L450.5 774.8 L454.5 777.4 L458.5 781.1 L462.5 784.7 L466.5 788.3 L470.5 791.2 L474.5 793.3 L478.5 794.4 L482.5 795.1 L486.5 795.5 L490.5 795.5 L494.5 795.6 L498.5 795.5 L502.5 795.1 L506.5 794.8 L510.5 794 L514.5 792.7 L518.5 790.9 L522.5 789.2 L526.5 787.5 L530.5 785.3 L534.5 782.7 L538.5 780 L542.5 777.5 L546.5 775.1 L550.5 773.4 L554.5 772.7 L558.5 772.9 L562.5 773.5 L566.5 774.5 L570.5 776 L574.5 777.2 L578.5 777.9 L582.5 778.9 L586.5 780.1 L590.5 781.9 L594.5 783.5 L598.5 785.2 L602.5 787.1 L606.5 788.6 L610.5 789.7 L614.5 790.5 L618.5 790.5 L622.5 790.2 L626.5 789.9 L630.5 789.5 L634.5 789.2 L638.5 788.1 L642.5 786.7 L646.5 785.6 L650.5 784.4 L654.5 783.7 L658.5 783.2 L662.5 783 L666.5 782.7 L670.5 782.3 L674.5 782 L678.5 781.8 L682.5 781.9 L686.5 782.1 L690.5 782.7 L694.5 783.7 L698.5 784.7 L702.5 785.7 L706.5 786.5 L710.5 787.1 L714.5 787.9 L718.5 788.5 L722.5 788.5 L726.5 788.3 L730.5 787.5 L734.5 786.4 L738.5 785 L742.5 782.9 L746.5 780.4 L750.5 777.6 L754.5 774.7 L758.5 772.1 L762.5 769.2 L766.5 766.3 L770.5 763 L774.5 760.1 L778.5 757.3 L782.5 755.4 L786.5 754.4 L790.5 753.4 L794.5 753.2 L798.5 753.1 L802.5 752.9 L806.5 752.9 L810.5 752.3 L814.5 751.8 L818.5 751.3 L822.5 751.4 L826.5 751.9 L830.5 752.6 L834.5 753.6 L838.5 754.5 L842.5 755.7 L846.5 757.5 L850.5 759.6 L854.5 761.9 L858.5 765 L862.5 768.3 L866.5 771.1 L870.5 773.8 L874.5 775.9 L878.5 777.2 L882.5 777.5 L886.5 777.4 L890.5 776.7 L894.5 775.7 L898.5 774.6 L902.5 773.5 L906.5 772.5 L910.5 771.4 L914.5 770.5 L918.5 769.3 L922.5 768 L926.5 767.1 L930.5 767.1 L934.5 767.5 L938.5 768.2 L942.5 769.1 L946.5 770.1 L950.5 771 L954.5 771.4 L958.5 771.8 L962.5 772.1 L966.5 772.6 L970.5 773.1 L974.5 773.6 L978.5 774.1 L982.5 774 L986.5 773.7 L990.5 773.1 L994.5 772.9 L998.5 773.2 L1002.5 773.5 L1006.5 774 L1010.5 774.4 L1014.5 775 L1018.5 775.3 L1022.5 775.4 L1026.5 775.9 L1030.5 776.5 L1034.5 777.3 L1038.5 778.7 L1042.5 780.3 L1046.5 781.6 L1050.5 782.5 L1054.5 783 L1058.5 783.6 L1062.5 783.9 L1066.5 784.2 L1070.5 784.6 L1074.5 785.2 L1078.5 786.1 L1082.5 786.8 L1086.5 787.6 L1090.5 788.1 L1094.5 788.2 L1098.5 788.1 L1102.5 787.6 L1106.5 786.9 L1110.5 785.6 L1114.5 783.9 L1118.5 782.3 L1122.5 780.6 L1126.5 778.8 L1130.5 777 L1134.5 775.6 L1138.5 774.4 L1142.5 773.3 L1146.5 772.5 L1150.5 771.6 L1154.5 770.8 L1158.5 769.5 L1162.5 768.4 L1166.5 767.4 L1170.5 766.7 L1174.5 766.3 L1178.5 766.7 L1182.5 767.4 L1186.5 768.6 L1190.5 769.7 L1194.5 770.7 L1198.5 771.6 L1202.5 772.7 L1206.5 774.4 L1210.5 776.4 L1214.5 779.2 L1218.5 782.8 L1222.5 786.8 L1226.5 790.5 L1230.5 794.7 L1234.5 799.7 L1238.5 806.1 L1242.5 812 L1246.5 818.3 L1250.5 823.3 L1254.5 826.6 L1258.5 828.6 L1262.5 829.2 L1266.5 829.1 L1270.5 828.9 L1274.5 828.4 L1278.5 827.8 L1282.5 826.8 L1286.5 825.6 L1290.5 824.3 L1294.5 823.2 L1298.5 823.2 L1302.5 823.6 L1306.5 824.6 L1310.5 825.6 L1314.5 825.9 L1318.5 826.2 L1322.5 826.7 L1326.5 826.7 L1330.5 826.5 L1334.5 826.1 L1338.5 825.8 L1342.5 824.9 L1346.5 824.1 L1350.5 824.1 L1354.5 824.6 L1358.5 825.2 L1362.5 826.2 L1366.5 826.6 L1370.5 826.3 L1374.5 825.4 L1378.5 824.1 L1382.5 821.7 L1386.5 818.5 L1390.5 815.2 L1394.5 811.5 L1398.5 807.8 L1402.5 804.4 L1406.5 801.3" fill="none" stroke="#ffb020" stroke-width="1.1" stroke-linejoin="round" stroke-linecap="round" />
<rect x="1529" y="112" width="5" height="1" fill="#e6eaef"/>
<rect x="1529" y="162" width="5" height="1" fill="#e6eaef"/>
<rect x="1529" y="212" width="5" height="1" fill="#e6eaef"/>
<rect x="1529" y="262" width="5" height="1" fill="#e6eaef"/>
<rect x="1529" y="312" width="5" height="1" fill="#e6eaef"/>
<rect x="1529" y="362" width="5" height="1" fill="#e6eaef"/>
<rect x="1529" y="412" width="5" height="1" fill="#e6eaef"/>
<rect x="1529" y="462" width="5" height="1" fill="#e6eaef"/>
<rect x="1529" y="512" width="5" height="1" fill="#e6eaef"/>
<rect x="1529" y="562" width="5" height="1" fill="#e6eaef"/>
<rect x="1529" y="601" width="5" height="1" fill="#e6eaef"/>
<rect x="1529" y="633" width="5" height="1" fill="#e6eaef"/>
<rect x="1529" y="665" width="5" height="1" fill="#e6eaef"/>
<rect x="1529" y="697" width="5" height="1" fill="#e6eaef"/>
<rect x="1529" y="736" width="5" height="1" fill="#e6eaef"/>
<rect x="1529" y="789" width="5" height="1" fill="#e6eaef"/>
<rect x="1529" y="843" width="5" height="1" fill="#e6eaef"/>
<rect x="1528" y="198" width="60" height="20" fill="#5ab182"/>
<rect x="1528" y="207.5" width="6" height="1" fill="#fff"/>
<rect x="1528" y="687.2" width="59" height="19.6" fill="#f6b44a"/>
<rect x="1528" y="697" width="6" height="1" fill="#fff"/>
<rect x="1586" y="436.3" width="2" height="37.7" fill="#e6e9ee"/>
<rect x="1587" y="451.6" width="1" height="6.4" fill="#6a6e80"/>
<path d="M1151.2 90.3 h7.4 M1155.4 87.9 l3.4 2.4 l-3.4 2.4" stroke="#1a1d26" stroke-width="1.3" fill="none"/>
<path d="M5.3 524.5 h-5.3 M2.6 522.2 l-3 2.3 l3 2.3" stroke="#1a1d26" stroke-width="1.3" fill="none"/>
<path d="M9.5 8.5 h11 a0.8 0.8 0 0 1 0.8 0.8 v9 a0.8 0.8 0 0 1 -0.8 0.8 h-11 a0.8 0.8 0 0 1 -0.8 -0.8 v-9 a0.8 0.8 0 0 1 0.8 -0.8 Z M11.5 15.5 l2.6 -3 l2 2 l2.8 -3" fill="none" stroke="#3a4052" stroke-width="1.05" stroke-linecap="round" stroke-linejoin="round" />
<path d="M66 7.8 l5.6 3.2 v6.6 l-5.6 3.2 l-5.6 -3.2 v-6.6 Z M66 12.4 a1.9 1.9 0 1 0 0.01 0 Z" fill="none" stroke="#3a4052" stroke-width="1.2" stroke-linecap="round" stroke-linejoin="round" />
<path d="M111.6 19.2 l0.4 -3.4 l7.3 -7.3 l3 3 l-7.3 7.3 Z M117.5 10.3 l3 3 M117.2 19.6 h5.4" fill="none" stroke="#3d82f0" stroke-width="1.2" stroke-linecap="round" stroke-linejoin="round" />
<path d="M161.7 10.4 h10.6 v8.8 h-10.6 Z M161.7 13.5 h10.6 M163.6 10.4 v-1.2 a1 1 0 0 1 1 -1 h4.8 a1 1 0 0 1 1 1 v1.2" fill="none" stroke="#3a4052" stroke-width="1.25" stroke-linecap="round" stroke-linejoin="round" />
<path d="M216.9 7.9 a6 6 0 1 0 0.01 0 Z M216.6 14.3 l2.3 -2.3" fill="none" stroke="#ffa61a" stroke-width="1.2" stroke-linecap="round" stroke-linejoin="round" />
<circle cx="216.9" cy="13.9" r="3.9" fill="none" stroke="#ffd9a0" stroke-width="0.8"/><circle cx="216.5" cy="14.4" r="1.1" fill="#ffa61a"/>
<path d="M342.8 13 h6.4 l-3.2 3.6 Z" fill="#8a8f9b"/>
<path d="M1472.5 11.6 v-3.1 h3.1 M1472.5 8.5 l3 3 M1483.5 11.6 v-3.1 h-3.1 M1483.5 8.5 l-3 3 M1472.5 16.4 v3.1 h3.1 M1472.5 19.5 l3 -3 M1483.5 16.4 v3.1 h-3.1 M1483.5 19.5 l-3 -3" fill="none" stroke="#8a909c" stroke-width="1" stroke-linecap="round" stroke-linejoin="round" />
<path d="M1494.5 12.5 v-4 h11 v11 h-4.5 M1494 17 h5 M1496.5 14.5 v5" fill="none" stroke="#8a909c" stroke-width="1.1" stroke-linecap="round" stroke-linejoin="round" />
<rect x="1518.5" y="5.5" width="59" height="19" rx="1.5" fill="#f3f4f7" stroke="#dfe2e8" stroke-width="1"/>
<path d="M1564 13.9 h6 l-3 3.4 Z" fill="#9a9fa9"/>
<rect x="5" y="33.7" width="22" height="22.2" fill="#e8f2fd"/>
<path d="M8.8 45.6 h5.2 M18.6 45.6 h5.2 M16.3 37.8 v5.4 M16.3 48 v5.4" fill="none" stroke="#3d82f0" stroke-width="1.3" stroke-linecap="round" stroke-linejoin="round" stroke-linecap="butt"/>
<path d="M28.8 44.7 h6.4 l-3.2 3.6 Z" fill="#8a8f9b"/>
<path d="M64.8 44.7 h6.4 l-3.2 3.6 Z" fill="#8a8f9b"/>
<path d="M100.8 44.7 h6.4 l-3.2 3.6 Z" fill="#8a8f9b"/>
<path d="M136.8 44.7 h6.4 l-3.2 3.6 Z" fill="#8a8f9b"/>
<path d="M172.8 44.7 h6.4 l-3.2 3.6 Z" fill="#8a8f9b"/>
<path d="M208.8 44.7 h6.4 l-3.2 3.6 Z" fill="#8a8f9b"/>
<path d="M244.8 44.7 h6.4 l-3.2 3.6 Z" fill="#8a8f9b"/>
<path d="M45.5 45.6 h13.2 M45.5 42.8 v5.6 M58.7 42.8 v5.6" fill="none" stroke="#3a4052" stroke-width="1.2" stroke-linecap="round" stroke-linejoin="round" />
<path d="M80.8 47.3 l8.3 -6.8 M85.4 51.4 l9 -7.4" fill="none" stroke="#3a4052" stroke-width="1.3" stroke-linecap="round" stroke-linejoin="round" />
<circle cx="94.4" cy="41.6" r="1.1" fill="#3a4052"/><circle cx="85.2" cy="51.4" r="1.1" fill="#3a4052"/>
<path d="M118.9 40.6 h11 v9 h-11 Z" fill="none" stroke="#3a4052" stroke-width="1.3" stroke-linecap="round" stroke-linejoin="round" />
<path d="M154 41 h11.8 M154 45.3 h11.8 M154 49.6 h11.8 M165.8 48.4 v2.4 M154 39.8 v2.4" fill="none" stroke="#3a4052" stroke-width="1.2" stroke-linecap="round" stroke-linejoin="round" />
<path d="M188.4 40.3 l1.3 -0.9 v3.9 M188.4 49 L194.1 41.5 L197.2 49 L201.2 42.8" fill="none" stroke="#3a4052" stroke-width="1" stroke-linecap="round" stroke-linejoin="round" />
<circle cx="199.9" cy="47.7" r="1.2" fill="none" stroke="#3a4052" stroke-width="0.8"/><circle cx="202.6" cy="47.8" r="1.2" fill="none" stroke="#3a4052" stroke-width="0.8"/>
<path d="M226.6 39.6 h10.6 v10.8 h-10.6 Z M229 45 h6 M232 42 v6" fill="none" stroke="#3a4052" stroke-width="1.2" stroke-linecap="round" stroke-linejoin="round" />
<circle cx="237.4" cy="39.4" r="1.2" fill="#3a4052"/><circle cx="226.4" cy="50.6" r="1.2" fill="#3a4052"/>
<path d="M289 46.5 l8 -7 l3.4 3.8 l-8 7 Z M291.5 45.5 l1 1.2 M293.6 43.7 l1 1.2 M295.7 41.9 l1 1.2" fill="none" stroke="#3a4052" stroke-width="1.1" stroke-linecap="round" stroke-linejoin="round" />
<path d="M288 38 h3.6 v1.4 h-3.6 Z M296.8 49.8 h3.6 v1.4 h-3.6 Z" fill="none" stroke="#3a4052" stroke-width="0.9" stroke-linecap="round" stroke-linejoin="round" />
<circle cx="288.6" cy="42.6" r="0.9" fill="none" stroke="#3a4052" stroke-width="0.8"/>
<path d="M315 46 l7 -6 l3.4 4 l-7 6 Z M317.3 45 l1 1.2 M319.2 43.4 l1 1.2 M321.1 41.8 l1 1.2" fill="none" stroke="#3a4052" stroke-width="1.1" stroke-linecap="round" stroke-linejoin="round" />
<path d="M314.5 43.5 a6.5 5 -30 0 1 11 -3.5 M326 47.5 a6.5 5 -30 0 1 -11 3" fill="none" stroke="#3a4052" stroke-width="0.9" stroke-linecap="round" stroke-linejoin="round" />
<path d="M340 47.2 l8.4 -7.4 l3.6 4 l-8.4 7.4 Z M342.8 46 l1.1 1.3 M344.9 44.1 l1.1 1.3 M347 42.3 l1.1 1.3" fill="none" stroke="#3a4052" stroke-width="1.2" stroke-linecap="round" stroke-linejoin="round" />
<rect x="365" y="33.7" width="22" height="22.2" fill="#e8f2fd"/>
<path d="M368.6 50.4 l0.9 -3.6 l6.6 -6.6 a0.9 0.9 0 0 1 1.3 0 l1.4 1.4 a0.9 0.9 0 0 1 0 1.3 l-6.6 6.6 Z M374.5 41.8 l2.7 2.7 M375.6 50.4 q1.6 -3.6 3.2 -1.6 q1.4 1.8 4.6 -1.4" fill="none" stroke="#3d82f0" stroke-width="1.1" stroke-linecap="round" stroke-linejoin="round" />
<path d="M396.6 38.6 v12.4 M401.8 38.6 v12.4 M407 38.6 v12.4 M394.4 47.6 h2.2" fill="none" stroke="#3a4052" stroke-width="1" stroke-linecap="round" stroke-linejoin="round" />
<path d="M395.4 41.4 h2.4 v5.8 h-2.4 Z M400.6 41 h2.4 v5 h-2.4 Z M405.8 41.4 h2.4 v5.8 h-2.4 Z" fill="#fff" stroke="#3a4052" stroke-width="1" stroke-linecap="round" stroke-linejoin="round" />
<path d="M423.6 43.6 h8.6 v6.8 h-8.6 Z M426 43.6 v-2.6 a1 1 0 0 1 1 -1 h1.8 a1 1 0 0 1 1 1 M428 46 v2" fill="none" stroke="#3a4052" stroke-width="1.2" stroke-linecap="round" stroke-linejoin="round" />
<path d="M450.4 40.8 h7.4 v9.8 l-3.7 -2.6 l-3.7 2.6 Z M448.4 47 v-8.2 h7" fill="none" stroke="#3a4052" stroke-width="1.1" stroke-linecap="round" stroke-linejoin="round" />
<path d="M480 50.8 h-6.8 v-11.2 h14 v6 M475.6 38.2 v2.6 M484.4 38.2 v2.6 M475.4 44 h4 M475.4 47 h2.4 M481.6 50.6 l3.4 -3.4 l2.2 2.2 M482.8 51 h5" fill="none" stroke="#3a4052" stroke-width="1" stroke-linecap="round" stroke-linejoin="round" />
<path d="M499.8 41.2 h12.8 M501.4 41.2 v9.6 h9.6 v-9.6 M503.4 41.2 v-2.4 h5.6 v2.4 M504.8 44.4 v3.8 M507.6 44.4 v3.8" fill="none" stroke="#3a4052" stroke-width="1.2" stroke-linecap="round" stroke-linejoin="round" />
<path d="M9.2 88.4 l3.7 3.7 l3.7 -3.7" fill="none" stroke="#555b66" stroke-width="1" stroke-linecap="round" stroke-linejoin="round" />
<path d="M54.2 90.2 q6.2 -8.4 12.4 0 q-6.2 8.4 -12.4 0 Z" fill="none" stroke="#9da2ad" stroke-width="1" stroke-linecap="round" stroke-linejoin="round" />
<circle cx="60.4" cy="90.2" r="2" fill="none" stroke="#9da2ad" stroke-width="1"/>
<path d="M79.4 84.6 l4.8 2.8 v5.6 l-4.8 2.8 l-4.8 -2.8 v-5.6 Z" fill="none" stroke="#9da2ad" stroke-width="1" stroke-linecap="round" stroke-linejoin="round" />
<circle cx="79.4" cy="90.2" r="1.9" fill="none" stroke="#9da2ad" stroke-width="1"/>
<path d="M94 86 l8.4 8.4 M102.4 86 l-8.4 8.4" fill="none" stroke="#9da2ad" stroke-width="1" stroke-linecap="round" stroke-linejoin="round" />
<path d="M8.8 583.9 l3.7 3.7 l3.7 -3.7" fill="none" stroke="#555b66" stroke-width="1" stroke-linecap="round" stroke-linejoin="round" />
<path d="M86 580.1 l4.8 2.8 v5.6 l-4.8 2.8 l-4.8 -2.8 v-5.6 Z" fill="none" stroke="#9da2ad" stroke-width="1" stroke-linecap="round" stroke-linejoin="round" />
<circle cx="86" cy="585.7" r="1.9" fill="none" stroke="#9da2ad" stroke-width="1"/>
<path d="M100.8 581.5 l8.4 8.4 M109.2 581.5 l-8.4 8.4" fill="none" stroke="#9da2ad" stroke-width="1" stroke-linecap="round" stroke-linejoin="round" />
<path d="M8.8 730.1 l3.7 3.7 l3.7 -3.7" fill="none" stroke="#555b66" stroke-width="1" stroke-linecap="round" stroke-linejoin="round" />
<path d="M119.6 726.3 l4.8 2.8 v5.6 l-4.8 2.8 l-4.8 -2.8 v-5.6 Z" fill="none" stroke="#9da2ad" stroke-width="1" stroke-linecap="round" stroke-linejoin="round" />
<circle cx="119.6" cy="731.9" r="1.9" fill="none" stroke="#9da2ad" stroke-width="1"/>
<path d="M134.3 727.7 l8.4 8.4 M142.7 727.7 l-8.4 8.4" fill="none" stroke="#9da2ad" stroke-width="1" stroke-linecap="round" stroke-linejoin="round" />
</svg>
<span class="t " style="left:1538px;top:102px;color:#4f5563;font-size:11px;letter-spacing:0.01px;">1938.34</span>
<span class="t " style="left:1538px;top:152px;color:#4f5563;font-size:11px;letter-spacing:0.01px;">1721.56</span>
<span class="t " style="left:1538px;top:252px;color:#4f5563;font-size:11px;letter-spacing:0.01px;">1358.01</span>
<span class="t " style="left:1538px;top:302px;color:#4f5563;font-size:11px;letter-spacing:0.01px;">1206.13</span>
<span class="t " style="left:1538px;top:352px;color:#4f5563;font-size:11px;letter-spacing:0.01px;">1071.24</span>
<span class="t " style="left:1541.4px;top:402px;color:#4f5563;font-size:11px;letter-spacing:-0.04px;">951.43</span>
<span class="t " style="left:1541.4px;top:452px;color:#4f5563;font-size:11px;letter-spacing:-0.04px;">845.02</span>
<span class="t " style="left:1541.4px;top:502px;color:#4f5563;font-size:11px;letter-spacing:-0.04px;">750.51</span>
<span class="t " style="left:1541.4px;top:552px;color:#4f5563;font-size:11px;letter-spacing:-0.04px;">666.58</span>
<span class="t " style="left:1538px;top:202px;color:#8fd0ae;font-size:11px;letter-spacing:0.01px;">1529.02</span>
<span class="t " style="left:1542.2px;top:591px;color:#4f5563;font-size:11px;">6.00M</span>
<span class="t " style="left:1542.2px;top:623px;color:#4f5563;font-size:11px;">4.00M</span>
<span class="t " style="left:1542.2px;top:655px;color:#4f5563;font-size:11px;">2.00M</span>
<span class="t " style="left:1540.5px;top:726px;color:#4f5563;font-size:11px;">100.00</span>
<span class="t " style="left:1547px;top:779px;color:#4f5563;font-size:11px;">0.00</span>
<span class="t " style="left:1538.5px;top:833px;color:#4f5563;font-size:11px;">-100.00</span>
<span class="t " style="left:1538.2px;top:198px;color:#fff;font-size:11px;font-weight:bold;letter-spacing:0.11px;">1543.30</span>
<span class="t " style="left:1555.3px;top:688.5px;color:#f5bd62;font-size:10px;font-weight:bold;font-family:'Liberation Mono',monospace;">0</span>
<span class="t " style="left:1543.2px;top:688.5px;color:#fff;font-size:10px;font-weight:bold;font-family:'Liberation Mono',monospace;">20.2k</span>
<span class="t " style="left:1444px;top:141.2px;color:#c8178a;font-size:11px;font-family:'Liberation Mono',monospace;transform:scaleY(1.05);">1709.35</span>
<span class="t " style="left:1435.7px;top:215.2px;color:#3f9a1d;font-size:11px;font-family:'Liberation Mono',monospace;transform:scaleY(1.05);">1435.18</span>
<span class="t " style="left:1435.7px;top:240.5px;color:#3f9a1d;font-size:11px;font-family:'Liberation Mono',monospace;transform:scaleY(1.05);">1351.95</span>
<span class="t " style="left:892px;top:182.2px;color:#3f9a1d;font-size:11px;font-family:'Liberation Mono',monospace;transform:scaleY(1.05);">1551.22</span>
<span class="t " style="left:560px;top:416px;color:#3f9a1d;font-size:11px;font-family:'Liberation Mono',monospace;transform:scaleY(1.05);">889.91</span>
<span class="t " style="left:1107.2px;top:79.2px;color:#2a2e39;font-size:11.5px;letter-spacing:-0.34px;">2042.18</span>
<span class="t " style="left:9.2px;top:513.2px;color:#2a2e39;font-size:11.5px;letter-spacing:-0.33px;">728.84</span>
<span class="t " style="left:25px;top:3.5px;color:#333a45;font-size:12px;">指标</span>
<span class="t " style="left:77px;top:3.5px;color:#333a45;font-size:12px;">设置</span>
<span class="t " style="left:127px;top:3.5px;color:#3d82f0;font-size:12px;">画线</span>
<span class="t " style="left:177px;top:3.5px;color:#333a45;font-size:12px;">高级</span>
<span class="t " style="left:226.5px;top:3.5px;color:#ffa61a;font-size:12px;">胜率</span>
<span class="t " style="left:276.3px;top:3.5px;color:#333a45;font-size:12px;">自定义周期</span>
<span class="t " style="left:357.7px;top:3.5px;color:#333a45;font-size:12px;">分时</span>
<span class="t " style="left:390.4px;top:3.5px;color:#333a45;font-size:12px;">1分钟</span>
<span class="t " style="left:429.2px;top:3.5px;color:#333a45;font-size:12px;">3分钟</span>
<span class="t " style="left:468.5px;top:3.5px;color:#333a45;font-size:12px;">5分钟</span>
<span class="t " style="left:506.3px;top:3.5px;color:#333a45;font-size:12px;">10分钟</span>
<span class="t " style="left:551.6px;top:3.5px;color:#333a45;font-size:12px;">15分钟</span>
<span class="t " style="left:597px;top:3.5px;color:#333a45;font-size:12px;">30分钟</span>
<span class="t " style="left:643.3px;top:3.5px;color:#333a45;font-size:12px;">1小时</span>
<span class="t " style="left:681px;top:3.5px;color:#333a45;font-size:12px;">2小时</span>
<span class="t " style="left:720.4px;top:3.5px;color:#333a45;font-size:12px;">3小时</span>
<span class="t " style="left:759.2px;top:3.5px;color:#3d82f0;font-size:12px;">4小时</span>
<span class="t " style="left:798px;top:3.5px;color:#333a45;font-size:12px;">6小时</span>
<span class="t " style="left:837px;top:3.5px;color:#333a45;font-size:12px;">12小时</span>
<span class="t " style="left:882px;top:3.5px;color:#333a45;font-size:12px;">1日</span>
<span class="t " style="left:909px;top:3.5px;color:#333a45;font-size:12px;">2日</span>
<span class="t " style="left:935.5px;top:3.5px;color:#333a45;font-size:12px;">3日</span>
<span class="t " style="left:962.8px;top:3.5px;color:#333a45;font-size:12px;">5日</span>
<span class="t " style="left:988.6px;top:3.5px;color:#333a45;font-size:12px;">周K</span>
<span class="t " style="left:1016.9px;top:3.5px;color:#333a45;font-size:12px;">月K</span>
<span class="t " style="left:1043.7px;top:3.5px;color:#333a45;font-size:12px;">季K</span>
<span class="t " style="left:1071.5px;top:3.5px;color:#333a45;font-size:12px;">年K</span>
<span class="t " style="left:1444px;top:3.8px;color:#444b57;font-size:12px;">3s</span>
<span class="t " style="left:1524.7px;top:6px;color:#222;font-size:12px;">单窗口</span>
<span class="t " style="left:260.2px;top:35px;color:#3a4052;font-size:14px;letter-spacing:-0.36px;">Aa</span>
<span class="t " style="left:-1.5px;top:61.8px;color:#333a45;font-size:12px;">时间:</span>
<span class="t " style="left:26.4px;top:61.8px;color:#333a45;font-size:12px;letter-spacing:-0.17px;">2021-03-02 16:00</span>
<span class="t " style="left:125.4px;top:61.8px;color:#333a45;font-size:12px;">开:</span>
<span class="t " style="left:139.8px;top:61.8px;color:#5bb381;font-size:12px;letter-spacing:0.04px;">1540.11</span>
<span class="t " style="left:190.2px;top:61.8px;color:#333a45;font-size:12px;">高:</span>
<span class="t " style="left:204.6px;top:61.8px;color:#5bb381;font-size:12px;letter-spacing:-0.03px;">1548.88</span>
<span class="t " style="left:254.6px;top:61.8px;color:#333a45;font-size:12px;">低:</span>
<span class="t " style="left:269px;top:61.8px;color:#5bb381;font-size:12px;letter-spacing:-0.05px;">1539.32</span>
<span class="t " style="left:319.4px;top:61.8px;color:#333a45;font-size:12px;">收:</span>
<span class="t " style="left:333.8px;top:61.8px;color:#5bb381;font-size:12px;letter-spacing:-0.08px;">1543.30</span>
<span class="t " style="left:383.4px;top:61.8px;color:#333a45;font-size:12px;">涨幅:</span>
<span class="t " style="left:409.7px;top:61.8px;color:#5bb381;font-size:12px;letter-spacing:-0.13px;">0.17%(2.66)</span>
<span class="t " style="left:479.6px;top:61.8px;color:#333a45;font-size:12px;">振幅:</span>
<span class="t " style="left:506.3px;top:61.8px;color:#5bb381;font-size:12px;letter-spacing:-0.27px;">0.62%</span>
<span class="t " style="left:27.2px;top:80.2px;color:#444b57;font-size:12px;letter-spacing:0.05px;">MA</span>
<span class="t " style="left:111.3px;top:80.2px;color:#ffae1a;font-size:12px;letter-spacing:0.02px;">MA(30):1477.13</span>
<span class="t " style="left:204px;top:80.2px;color:#f054c0;font-size:12px;letter-spacing:-0.00px;">MA(60):1612.02</span>
<span class="t " style="left:297px;top:80.2px;color:#3db4ee;font-size:12px;letter-spacing:-0.05px;">MA(365):1427.41</span>
<span class="t " style="left:27.4px;top:575.7px;color:#444b57;font-size:12px;letter-spacing:-0.68px;">VOLUME</span>
<span class="t " style="left:118.5px;top:575.7px;color:#444b57;font-size:12px;letter-spacing:-0.31px;">VOLUME:20,173.0000</span>
<span class="t " style="left:239.6px;top:575.7px;color:#444b57;font-size:12px;">预估成交量:</span>
<span class="t " style="left:302.2px;top:575.7px;color:#444b57;font-size:12px;letter-spacing:-0.01px;">842,003.4783</span>
<span class="t " style="left:382px;top:575.7px;color:#3fd0b4;font-size:12px;letter-spacing:-0.05px;">MA(5):417,425.4000</span>
<span class="t " style="left:497.3px;top:575.7px;color:#ffae1a;font-size:12px;letter-spacing:-0.05px;">MA(10):489,901.9000</span>
<span class="t " style="left:27.4px;top:721.9px;color:#444b57;font-size:12px;letter-spacing:-0.25px;">MACD(12,26,9)</span>
<span class="t " style="left:151.9px;top:721.9px;color:#3fd0b4;font-size:12px;letter-spacing:-0.33px;">DIF:1.09</span>
<span class="t " style="left:202px;top:721.9px;color:#ffae1a;font-size:12px;letter-spacing:-0.37px;">DEA:-22.40</span>
<span class="t " style="left:267px;top:721.9px;color:#5bb381;font-size:12px;letter-spacing:-0.27px;">MACD:46.98</span>
<span class="t " style="left:5px;top:702.8px;color:#555b66;font-size:12px;letter-spacing:0.20px;">MA</span>
<span class="t " style="left:33.4px;top:702.8px;color:#555b66;font-size:12px;letter-spacing:-0.33px;">EMA</span>
<span class="t " style="left:69px;top:702.8px;color:#4a8cf0;font-size:12px;letter-spacing:-0.78px;">VOLUME</span>
<span class="t " style="left:126px;top:702.8px;color:#a9afbb;font-size:12px;letter-spacing:-0.46px;">MACD</span>
<span class="t " style="left:170px;top:702.8px;color:#555b66;font-size:12px;letter-spacing:-0.33px;">DMI</span>
<span class="t " style="left:201px;top:702.8px;color:#555b66;font-size:12px;letter-spacing:-0.02px;">DMA</span>
<span class="t " style="left:238px;top:702.8px;color:#555b66;font-size:12px;letter-spacing:-0.41px;">TRIX</span>
<span class="t " style="left:273px;top:702.8px;color:#555b66;font-size:12px;letter-spacing:-0.84px;">BRAR</span>
<span class="t " style="left:313px;top:702.8px;color:#555b66;font-size:12px;letter-spacing:-0.84px;">VR</span>
<span class="t " style="left:338px;top:702.8px;color:#555b66;font-size:12px;letter-spacing:-0.78px;">OBV</span>
<span class="t " style="left:371.5px;top:702.8px;color:#555b66;font-size:12px;letter-spacing:-0.50px;">EMV</span>
<span class="t " style="left:406px;top:702.8px;color:#555b66;font-size:12px;letter-spacing:-0.67px;">RSI</span>
<span class="t " style="left:434px;top:702.8px;color:#555b66;font-size:12px;letter-spacing:-1.50px;">WR</span>
<span class="t " style="left:462px;top:702.8px;color:#555b66;font-size:12px;letter-spacing:-1.22px;">SAR</span>
<span class="t " style="left:494.6px;top:702.8px;color:#555b66;font-size:12px;letter-spacing:-0.42px;">KDJ</span>
<span class="t " style="left:526.7px;top:702.8px;color:#555b66;font-size:12px;letter-spacing:-1.32px;">ROC</span>
<span class="t " style="left:560px;top:702.8px;color:#555b66;font-size:12px;letter-spacing:0.03px;">MTM</span>
<span class="t " style="left:598.4px;top:702.8px;color:#555b66;font-size:12px;letter-spacing:-0.77px;">BOLL</span>
<span class="t " style="left:636.8px;top:702.8px;color:#555b66;font-size:12px;letter-spacing:-0.77px;">PSY</span>
<span class="t " style="left:668.5px;top:702.8px;color:#555b66;font-size:12px;letter-spacing:-0.40px;">StochRSI</span>
<span class="t " style="left:727px;top:702.8px;color:#555b66;font-size:12px;letter-spacing:-0.44px;">SMI</span>
<span class="t " style="left:758px;top:702.8px;color:#555b66;font-size:12px;letter-spacing:-0.89px;">CCI</span>
<span class="t " style="left:786px;top:702.8px;color:#555b66;font-size:12px;letter-spacing:0.11px;">MFI</span>
<span class="t " style="left:817px;top:702.8px;color:#555b66;font-size:12px;letter-spacing:-0.47px;">ATR</span>
<span class="t " style="left:848.7px;top:702.8px;color:#555b66;font-size:12px;letter-spacing:-0.74px;">BBW</span>
<span class="t " style="left:883.8px;top:702.8px;color:#555b66;font-size:12px;letter-spacing:-0.42px;">SKDJ</span>
<span class="t " style="left:923.8px;top:702.8px;color:#555b66;font-size:12px;letter-spacing:-0.56px;">BIAS</span>
<span class="t " style="left:959.6px;top:702.8px;color:#555b66;font-size:12px;letter-spacing:-1.20px;">DPO</span>
<span class="t " style="left:993px;top:702.8px;color:#555b66;font-size:12px;letter-spacing:-1.17px;">AO</span>
<span class="t " style="left:1019px;top:702.8px;color:#555b66;font-size:12px;letter-spacing:0.04px;">Position</span>
<span class="t " style="left:1073px;top:702.8px;color:#555b66;font-size:12px;letter-spacing:-0.12px;">Fundflow</span>
<span class="t " style="left:1132px;top:702.8px;color:#a9afbb;font-size:12px;letter-spacing:-0.39px;">AI-NetVOL</span>
<span class="t " style="left:1197.5px;top:702.8px;color:#555b66;font-size:12px;letter-spacing:-1.00px;">LSUR</span>
<span class="t " style="left:1236.6px;top:702.8px;color:#555b66;font-size:12px;letter-spacing:-0.73px;">BASIS</span>
<span class="t " style="left:1279.3px;top:702.8px;color:#555b66;font-size:12px;letter-spacing:-0.09px;">TVolume</span>
<span class="t " style="left:1337px;top:702.8px;color:#555b66;font-size:12px;letter-spacing:-0.82px;">FTBS</span>
<span class="t " style="left:1375.7px;top:702.8px;color:#555b66;font-size:12px;letter-spacing:-0.67px;">TTSI</span>
<span class="t " style="left:1410px;top:702.8px;color:#555b66;font-size:12px;letter-spacing:-0.38px;">TTMU</span>
<span class="t " style="left:1452.8px;top:702.8px;color:#a9afbb;font-size:12px;letter-spacing:-0.55px;">AI-BSI</span>
<span class="t " style="left:1495.2px;top:702.8px;color:#555b66;font-size:12px;letter-spacing:-0.65px;">MLR</span>
</body></html>
